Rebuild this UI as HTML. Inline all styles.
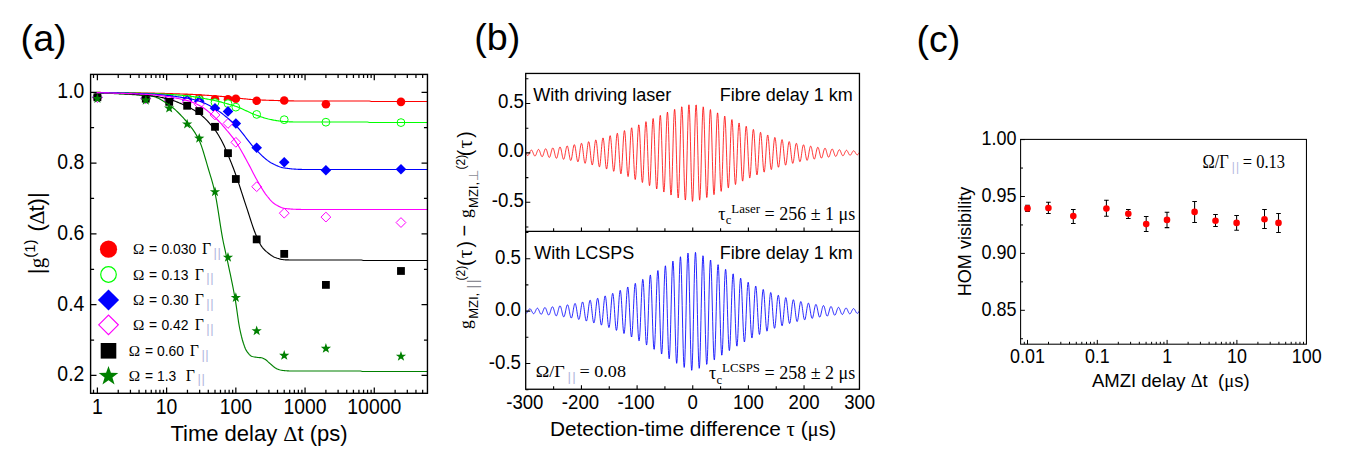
<!DOCTYPE html>
<html lang="en"><head><meta charset="utf-8"><title>Figure: first-order coherence, MZI correlations, HOM visibility</title>
<style>
html,body{margin:0;padding:0;background:#fff;}
body{width:1368px;height:465px;overflow:hidden;}
svg{display:block;}
text{fill:#000;}
.s{font-family:"Liberation Sans", Arial, Helvetica, sans-serif;}
.r{font-family:"Liberation Serif", "Times New Roman", Times, serif;}
.bar{fill:#b3b8de;font-family:"Liberation Sans", Arial, Helvetica, sans-serif;}
.bar2{fill:#8c8c94;font-family:"Liberation Sans", Arial, Helvetica, sans-serif;}
</style></head><body>
<svg width="1368" height="465" viewBox="0 0 1368 465">
<rect x="0" y="0" width="1368" height="465" fill="#fff"/>
<g id="panel-a">
<text class="s" transform="translate(20.6 50.9) scale(1.040 1)" font-size="36.2" text-anchor="start">(a)</text>
<g>
<circle cx="97.4" cy="97.25" r="4.3" fill="#ff0000"/>
<circle cx="145.78" cy="97.96" r="4.3" fill="#ff0000"/>
<circle cx="169.21" cy="97.96" r="4.3" fill="#ff0000"/>
<circle cx="187.16" cy="97.96" r="4.3" fill="#ff0000"/>
<circle cx="199.24" cy="98.32" r="4.3" fill="#ff0000"/>
<circle cx="215" cy="99.2" r="4.3" fill="#ff0000"/>
<circle cx="227.98" cy="99.2" r="4.3" fill="#ff0000"/>
<circle cx="235.84" cy="98.74" r="4.3" fill="#ff0000"/>
<circle cx="256.68" cy="100.79" r="4.3" fill="#ff0000"/>
<circle cx="284.22" cy="100.44" r="4.3" fill="#ff0000"/>
<circle cx="325.9" cy="104.19" r="4.3" fill="#ff0000"/>
<circle cx="400.97" cy="101.86" r="4.3" fill="#ff0000"/>
</g>
<g>
<circle cx="97.4" cy="97.25" r="3.9" fill="#fff" stroke="#00ff00" stroke-width="1"/>
<circle cx="145.78" cy="97.96" r="3.9" fill="#fff" stroke="#00ff00" stroke-width="1"/>
<circle cx="169.21" cy="97.96" r="3.9" fill="#fff" stroke="#00ff00" stroke-width="1"/>
<circle cx="187.16" cy="98.32" r="3.9" fill="#fff" stroke="#00ff00" stroke-width="1"/>
<circle cx="199.24" cy="99.38" r="3.9" fill="#fff" stroke="#00ff00" stroke-width="1"/>
<circle cx="215" cy="102.56" r="3.9" fill="#fff" stroke="#00ff00" stroke-width="1"/>
<circle cx="227.98" cy="103.62" r="3.9" fill="#fff" stroke="#00ff00" stroke-width="1"/>
<circle cx="235.84" cy="107.16" r="3.9" fill="#fff" stroke="#00ff00" stroke-width="1"/>
<circle cx="256.68" cy="114.42" r="3.9" fill="#fff" stroke="#00ff00" stroke-width="1"/>
<circle cx="284.22" cy="119.69" r="3.9" fill="#fff" stroke="#00ff00" stroke-width="1"/>
<circle cx="325.9" cy="122.2" r="3.9" fill="#fff" stroke="#00ff00" stroke-width="1"/>
<circle cx="400.97" cy="122.59" r="3.9" fill="#fff" stroke="#00ff00" stroke-width="1"/>
</g>
<g>
<polygon points="92.1,97.25 97.4,91.95 102.7,97.25 97.4,102.55" fill="#0000ff"/>
<polygon points="140.48,98.32 145.78,93.02 151.08,98.32 145.78,103.62" fill="#0000ff"/>
<polygon points="163.91,99.02 169.21,93.72 174.51,99.02 169.21,104.32" fill="#0000ff"/>
<polygon points="181.86,100.09 187.16,94.79 192.46,100.09 187.16,105.39" fill="#0000ff"/>
<polygon points="193.94,101.15 199.24,95.85 204.54,101.15 199.24,106.45" fill="#0000ff"/>
<polygon points="209.7,108.23 215,102.93 220.3,108.23 215,113.53" fill="#0000ff"/>
<polygon points="222.68,111.41 227.98,106.11 233.28,111.41 227.98,116.71" fill="#0000ff"/>
<polygon points="230.54,123.44 235.84,118.14 241.14,123.44 235.84,128.74" fill="#0000ff"/>
<polygon points="251.38,147.72 256.68,142.42 261.98,147.72 256.68,153.02" fill="#0000ff"/>
<polygon points="278.92,162.27 284.22,156.97 289.52,162.27 284.22,167.57" fill="#0000ff"/>
<polygon points="320.6,170.3 325.9,165 331.2,170.3 325.9,175.6" fill="#0000ff"/>
<polygon points="395.67,169.31 400.97,164.01 406.27,169.31 400.97,174.61" fill="#0000ff"/>
</g>
<g>
<polygon points="92.5,97.61 97.4,92.71 102.3,97.61 97.4,102.51" fill="#fff" stroke="#ff00ff" stroke-width="1"/>
<polygon points="140.88,98.67 145.78,93.77 150.68,98.67 145.78,103.57" fill="#fff" stroke="#ff00ff" stroke-width="1"/>
<polygon points="164.31,100.09 169.21,95.19 174.11,100.09 169.21,104.99" fill="#fff" stroke="#ff00ff" stroke-width="1"/>
<polygon points="182.26,102.21 187.16,97.31 192.06,102.21 187.16,107.11" fill="#fff" stroke="#ff00ff" stroke-width="1"/>
<polygon points="194.34,104.33 199.24,99.43 204.14,104.33 199.24,109.23" fill="#fff" stroke="#ff00ff" stroke-width="1"/>
<polygon points="210.1,114.95 215,110.05 219.9,114.95 215,119.85" fill="#fff" stroke="#ff00ff" stroke-width="1"/>
<polygon points="223.08,123.44 227.98,118.54 232.88,123.44 227.98,128.34" fill="#fff" stroke="#ff00ff" stroke-width="1"/>
<polygon points="230.94,142.31 235.84,137.41 240.74,142.31 235.84,147.21" fill="#fff" stroke="#ff00ff" stroke-width="1"/>
<polygon points="251.78,186.69 256.68,181.79 261.58,186.69 256.68,191.59" fill="#fff" stroke="#ff00ff" stroke-width="1"/>
<polygon points="279.32,213.19 284.22,208.29 289.12,213.19 284.22,218.09" fill="#fff" stroke="#ff00ff" stroke-width="1"/>
<polygon points="321,217.09 325.9,212.19 330.8,217.09 325.9,221.99" fill="#fff" stroke="#ff00ff" stroke-width="1"/>
<polygon points="396.07,222.54 400.97,217.64 405.87,222.54 400.97,227.44" fill="#fff" stroke="#ff00ff" stroke-width="1"/>
</g>
<g>
<rect x="93.5" y="93.35" width="7.8" height="7.8" fill="#000"/>
<rect x="141.88" y="94.77" width="7.8" height="7.8" fill="#000"/>
<rect x="165.31" y="97.96" width="7.8" height="7.8" fill="#000"/>
<rect x="183.26" y="101.85" width="7.8" height="7.8" fill="#000"/>
<rect x="195.34" y="107.16" width="7.8" height="7.8" fill="#000"/>
<rect x="211.1" y="122.91" width="7.8" height="7.8" fill="#000"/>
<rect x="224.08" y="149.27" width="7.8" height="7.8" fill="#000"/>
<rect x="231.94" y="175.11" width="7.8" height="7.8" fill="#000"/>
<rect x="252.78" y="235.48" width="7.8" height="7.8" fill="#000"/>
<rect x="280.32" y="249.99" width="7.8" height="7.8" fill="#000"/>
<rect x="322" y="280.99" width="7.8" height="7.8" fill="#000"/>
<rect x="397.07" y="267.08" width="7.8" height="7.8" fill="#000"/>
</g>
<g>
<polygon points="97.4,93.27 98.67,96.92 102.54,97 99.45,99.34 100.57,103.04 97.4,100.83 94.23,103.04 95.35,99.34 92.26,97 96.13,96.92" fill="#008000"/>
<polygon points="145.78,94.86 147.05,98.52 150.92,98.59 147.84,100.93 148.96,104.63 145.78,102.42 142.61,104.63 143.73,100.93 140.65,98.59 144.51,98.52" fill="#008000"/>
<polygon points="169.21,102.83 170.48,106.48 174.35,106.56 171.26,108.89 172.38,112.59 169.21,110.39 166.04,112.59 167.16,108.89 164.07,106.56 167.94,106.48" fill="#008000"/>
<polygon points="187.16,118.75 188.42,122.4 192.29,122.48 189.21,124.82 190.33,128.52 187.16,126.31 183.98,128.52 185.1,124.82 182.02,122.48 185.89,122.4" fill="#008000"/>
<polygon points="199.24,132.91 200.51,136.56 204.38,136.64 201.3,138.97 202.42,142.68 199.24,140.47 196.07,142.68 197.19,138.97 194.11,136.64 197.97,136.56" fill="#008000"/>
<polygon points="215,186.49 216.27,190.14 220.14,190.22 217.06,192.55 218.18,196.26 215,194.05 211.83,196.26 212.95,192.55 209.87,190.22 213.73,190.14" fill="#008000"/>
<polygon points="227.98,251.99 229.25,255.65 233.12,255.73 230.04,258.06 231.16,261.76 227.98,259.55 224.81,261.76 225.93,258.06 222.85,255.73 226.71,255.65" fill="#008000"/>
<polygon points="235.84,292.3 237.11,295.96 240.98,296.03 237.89,298.37 239.01,302.07 235.84,299.86 232.67,302.07 233.79,298.37 230.7,296.03 234.57,295.96" fill="#008000"/>
<polygon points="256.68,325.5 257.95,329.15 261.81,329.23 258.73,331.57 259.85,335.27 256.68,333.06 253.5,335.27 254.62,331.57 251.54,329.23 255.41,329.15" fill="#008000"/>
<polygon points="284.22,350.1 285.49,353.75 289.36,353.83 286.28,356.16 287.4,359.86 284.22,357.66 281.05,359.86 282.17,356.16 279.09,353.83 282.95,353.75" fill="#008000"/>
<polygon points="325.9,343.09 327.17,346.74 331.03,346.82 327.95,349.16 329.07,352.86 325.9,350.65 322.72,352.86 323.84,349.16 320.76,346.82 324.63,346.74" fill="#008000"/>
<polygon points="400.97,351.02 402.24,354.67 406.11,354.75 403.03,357.08 404.15,360.78 400.97,358.58 397.8,360.78 398.92,357.08 395.84,354.75 399.7,354.67" fill="#008000"/>
</g>
<g>
<path d="M96.4 92.86 L97.4 92.9 L98.4 92.94 L99.4 92.99 L100.4 93.03 L101.4 93.07 L102.4 93.11 L103.4 93.15 L104.4 93.19 L105.4 93.23 L106.4 93.27 L107.4 93.31 L108.4 93.35 L109.4 93.39 L110.4 93.43 L111.4 93.47 L112.4 93.51 L113.4 93.55 L114.4 93.59 L115.4 93.64 L116.4 93.68 L117.4 93.72 L118.4 93.77 L119.4 93.82 L120.4 93.86 L121.4 93.91 L122.4 93.96 L123.4 94.01 L124.4 94.07 L125.4 94.12 L126.4 94.18 L127.4 94.24 L128.4 94.3 L129.4 94.37 L130.4 94.43 L131.4 94.5 L132.4 94.57 L133.4 94.64 L134.4 94.71 L135.4 94.79 L136.4 94.87 L137.4 94.94 L138.4 95.02 L139.4 95.1 L140.4 95.18 L141.4 95.26 L142.4 95.34 L143.4 95.43 L144.4 95.51 L145.4 95.59 L146.4 95.67 L147.4 95.75 L148.4 95.82 L149.4 95.91 L150.4 96 L151.4 96.12 L152.4 96.26 L153.4 96.46 L154.4 96.73 L155.4 97.05 L156.4 97.42 L157.4 97.85 L158.4 98.32 L159.4 98.83 L160.4 99.37 L161.4 99.95 L162.4 100.56 L163.4 101.19 L164.4 101.83 L165.4 102.5 L166.4 103.17 L167.4 103.85 L168.4 104.52 L169.4 105.2 L170.4 105.89 L171.4 106.62 L172.4 107.39 L173.4 108.2 L174.4 109.04 L175.4 109.91 L176.4 110.82 L177.4 111.76 L178.4 112.73 L179.4 113.72 L180.4 114.75 L181.4 115.8 L182.4 116.88 L183.4 117.98 L184.4 119.1 L185.4 120.25 L186.4 121.41 L187.4 122.6 L188.4 123.8 L189.4 125.03 L190.4 126.28 L191.4 127.58 L192.4 128.94 L193.4 130.36 L194.4 131.85 L195.4 133.43 L196.4 135.11 L197.4 136.9 L198.4 138.8 L199.4 140.85 L200.4 143.22 L201.4 145.9 L202.4 148.85 L203.4 152 L204.4 155.31 L205.4 158.72 L206.4 162.17 L207.4 165.62 L208.4 169 L209.4 172.3 L210.4 175.58 L211.4 178.94 L212.4 182.44 L213.4 186.19 L214.4 190.26 L215.4 194.82 L216.4 200.15 L217.4 206.08 L218.4 212.4 L219.4 218.89 L220.4 225.36 L221.4 231.58 L222.4 237.35 L223.4 242.5 L224.4 247.19 L225.4 251.65 L226.4 256.05 L227.4 260.59 L228.4 265.32 L229.4 270.02 L230.4 274.74 L231.4 279.52 L232.4 284.42 L233.4 289.5 L234.4 294.81 L235.4 300.42 L236.4 306.79 L237.4 313.97 L238.4 321.03 L239.4 327 L240.4 331.87 L241.4 336.22 L242.4 340.01 L243.4 343.24 L244.4 346.17 L245.4 348.7 L246.4 350.64 L247.4 352.12 L248.4 353.46 L249.4 354.61 L250.4 355.54 L251.4 356.19 L252.4 356.55 L253.4 356.81 L254.4 357.01 L255.4 357.16 L256.4 357.3 L257.4 357.41 L258.4 357.49 L259.4 357.56 L260.4 357.64 L261.4 357.77 L262.4 358 L263.4 358.41 L264.4 358.95 L265.4 359.54 L266.4 360.25 L267.4 361.15 L268.4 362.1 L269.4 363 L270.4 363.85 L271.4 364.75 L272.4 365.64 L273.4 366.51 L274.4 367.32 L275.4 368.02 L276.4 368.6 L277.4 369.01 L278.4 369.36 L279.4 369.68 L280.4 369.96 L281.4 370.2 L282.4 370.39 L283.4 370.54 L284.4 370.63 L285.4 370.71 L286.4 370.79 L287.4 370.85 L288.4 370.91 L289.4 370.95 L290.4 370.98 L291.4 371 L292.4 371 L293.4 371 L294.4 371 L295.4 371 L296.4 371 L297.4 371 L298.4 371 L299.4 371 L300.4 371 L301.4 371 L302.4 371 L303.4 371 L304.4 371 L305.4 371 L306.4 371 L307.4 371 L308.4 371 L309.4 371 L310.4 371 L311.4 371 L312.4 371 L313.4 371 L314.4 371 L315.4 371 L316.4 371 L317.4 371 L318.4 371 L319.4 371 L320.4 371 L321.4 371 L322.4 371 L323.4 371 L324.4 371 L325.4 371 L326.4 371 L327.4 371 L328.4 371 L329.4 371 L330.4 371 L331.4 371 L332.4 371 L333.4 371 L334.4 371 L335.4 371 L336.4 371 L337.4 371 L338.4 371 L339.4 371 L340.4 371 L341.4 371 L342.4 371 L343.4 371 L344.4 371 L345.4 371 L346.4 371 L347.4 371 L348.4 371 L349.4 371 L350.4 371 L351.4 371 L352.4 371 L353.4 371 L354.4 371 L355.4 371 L356.4 371 L357.4 371 L358.4 371 L359.4 371 L360.4 371.02 L361.4 371.23 L362.4 371.45 L363.4 371.5 L364.4 371.5 L365.4 371.5 L366.4 371.5 L367.4 371.5 L368.4 371.5 L369.4 371.5 L370.4 371.5 L371.4 371.5 L372.4 371.5 L373.4 371.5 L374.4 371.5 L375.4 371.5 L376.4 371.5 L377.4 371.5 L378.4 371.5 L379.4 371.5 L380.4 371.5 L381.4 371.5 L382.4 371.5 L383.4 371.5 L384.4 371.5 L385.4 371.5 L386.4 371.5 L387.4 371.5 L388.4 371.5 L389.4 371.5 L390.4 371.5 L391.4 371.5 L392.4 371.5 L393.4 371.5 L394.4 371.5 L395.4 371.5 L396.4 371.5 L397.4 371.5 L398.4 371.5 L399.4 371.5 L400.4 371.5 L401.4 371.5 L402.4 371.5 L403.4 371.5 L404.4 371.5 L405.4 371.5 L406.4 371.5 L407.4 371.5 L408.4 371.5 L409.4 371.5 L410.4 371.5 L411.4 371.5 L412.4 371.5 L413.4 371.5 L414.4 371.5 L415.4 371.5 L416.4 371.5 L417.4 371.5 L418.4 371.5 L419.4 371.5 L420.4 371.5 L421.4 371.5 L422.4 371.5 L423.4 371.5 L424.4 371.5 L425.4 371.5 L426.4 371.5 L427.4 371.5" fill="none" stroke="#008000" stroke-width="1.15" stroke-linejoin="round"/>
<path d="M96.4 92.67 L97.4 92.7 L98.4 92.74 L99.4 92.77 L100.4 92.81 L101.4 92.84 L102.4 92.88 L103.4 92.92 L104.4 92.95 L105.4 92.99 L106.4 93.03 L107.4 93.07 L108.4 93.1 L109.4 93.14 L110.4 93.18 L111.4 93.22 L112.4 93.26 L113.4 93.3 L114.4 93.34 L115.4 93.39 L116.4 93.43 L117.4 93.47 L118.4 93.52 L119.4 93.56 L120.4 93.61 L121.4 93.65 L122.4 93.7 L123.4 93.75 L124.4 93.8 L125.4 93.85 L126.4 93.91 L127.4 93.96 L128.4 94.02 L129.4 94.07 L130.4 94.13 L131.4 94.19 L132.4 94.25 L133.4 94.31 L134.4 94.38 L135.4 94.44 L136.4 94.51 L137.4 94.58 L138.4 94.65 L139.4 94.72 L140.4 94.79 L141.4 94.87 L142.4 94.95 L143.4 95.03 L144.4 95.11 L145.4 95.19 L146.4 95.28 L147.4 95.36 L148.4 95.45 L149.4 95.54 L150.4 95.64 L151.4 95.75 L152.4 95.86 L153.4 96 L154.4 96.14 L155.4 96.3 L156.4 96.46 L157.4 96.64 L158.4 96.83 L159.4 97.03 L160.4 97.23 L161.4 97.45 L162.4 97.67 L163.4 97.9 L164.4 98.14 L165.4 98.38 L166.4 98.63 L167.4 98.88 L168.4 99.14 L169.4 99.4 L170.4 99.67 L171.4 99.97 L172.4 100.28 L173.4 100.62 L174.4 100.97 L175.4 101.33 L176.4 101.71 L177.4 102.11 L178.4 102.51 L179.4 102.93 L180.4 103.37 L181.4 103.81 L182.4 104.26 L183.4 104.71 L184.4 105.18 L185.4 105.65 L186.4 106.12 L187.4 106.6 L188.4 107.08 L189.4 107.58 L190.4 108.09 L191.4 108.61 L192.4 109.15 L193.4 109.71 L194.4 110.3 L195.4 110.91 L196.4 111.54 L197.4 112.21 L198.4 112.91 L199.4 113.65 L200.4 114.42 L201.4 115.24 L202.4 116.09 L203.4 116.99 L204.4 117.92 L205.4 118.89 L206.4 119.89 L207.4 120.94 L208.4 122.01 L209.4 123.13 L210.4 124.27 L211.4 125.45 L212.4 126.66 L213.4 127.91 L214.4 129.18 L215.4 130.5 L216.4 131.92 L217.4 133.43 L218.4 135.03 L219.4 136.72 L220.4 138.48 L221.4 140.3 L222.4 142.19 L223.4 144.2 L224.4 146.36 L225.4 148.62 L226.4 150.97 L227.4 153.36 L228.4 155.78 L229.4 158.2 L230.4 160.66 L231.4 163.16 L232.4 165.72 L233.4 168.33 L234.4 171 L235.4 173.72 L236.4 176.53 L237.4 179.42 L238.4 182.39 L239.4 185.42 L240.4 188.49 L241.4 191.59 L242.4 194.69 L243.4 197.79 L244.4 200.87 L245.4 203.91 L246.4 206.89 L247.4 209.93 L248.4 213.03 L249.4 216.14 L250.4 219.26 L251.4 222.33 L252.4 225.33 L253.4 228.22 L254.4 230.98 L255.4 233.57 L256.4 235.96 L257.4 238.27 L258.4 240.49 L259.4 242.58 L260.4 244.49 L261.4 246.15 L262.4 247.52 L263.4 248.7 L264.4 249.76 L265.4 250.71 L266.4 251.58 L267.4 252.4 L268.4 253.2 L269.4 253.98 L270.4 254.74 L271.4 255.45 L272.4 256.11 L273.4 256.69 L274.4 257.18 L275.4 257.57 L276.4 257.92 L277.4 258.26 L278.4 258.57 L279.4 258.87 L280.4 259.13 L281.4 259.36 L282.4 259.55 L283.4 259.69 L284.4 259.78 L285.4 259.82 L286.4 259.86 L287.4 259.89 L288.4 259.92 L289.4 259.95 L290.4 259.97 L291.4 259.98 L292.4 259.99 L293.4 260 L294.4 260 L295.4 260 L296.4 260 L297.4 260 L298.4 260 L299.4 260 L300.4 260 L301.4 260 L302.4 260 L303.4 260 L304.4 260 L305.4 260 L306.4 260 L307.4 260 L308.4 260 L309.4 260 L310.4 260 L311.4 260 L312.4 260 L313.4 260 L314.4 260 L315.4 260 L316.4 260 L317.4 260 L318.4 260 L319.4 260 L320.4 260 L321.4 260 L322.4 260 L323.4 260 L324.4 260 L325.4 260 L326.4 260 L327.4 260 L328.4 260 L329.4 260 L330.4 260 L331.4 260 L332.4 260 L333.4 260 L334.4 260 L335.4 260 L336.4 260 L337.4 260 L338.4 260 L339.4 260 L340.4 260 L341.4 260 L342.4 260 L343.4 260 L344.4 260 L345.4 260 L346.4 260 L347.4 260 L348.4 260 L349.4 260 L350.4 260 L351.4 260 L352.4 260 L353.4 260 L354.4 260 L355.4 260 L356.4 260 L357.4 260 L358.4 260 L359.4 260 L360.4 260 L361.4 260.02 L362.4 260.23 L363.4 260.45 L364.4 260.5 L365.4 260.5 L366.4 260.5 L367.4 260.5 L368.4 260.5 L369.4 260.5 L370.4 260.5 L371.4 260.5 L372.4 260.5 L373.4 260.5 L374.4 260.5 L375.4 260.5 L376.4 260.5 L377.4 260.5 L378.4 260.5 L379.4 260.5 L380.4 260.5 L381.4 260.5 L382.4 260.5 L383.4 260.5 L384.4 260.5 L385.4 260.5 L386.4 260.5 L387.4 260.5 L388.4 260.5 L389.4 260.5 L390.4 260.5 L391.4 260.5 L392.4 260.5 L393.4 260.5 L394.4 260.5 L395.4 260.5 L396.4 260.5 L397.4 260.5 L398.4 260.5 L399.4 260.5 L400.4 260.5 L401.4 260.5 L402.4 260.5 L403.4 260.5 L404.4 260.5 L405.4 260.5 L406.4 260.5 L407.4 260.5 L408.4 260.5 L409.4 260.5 L410.4 260.5 L411.4 260.5 L412.4 260.5 L413.4 260.5 L414.4 260.5 L415.4 260.5 L416.4 260.5 L417.4 260.5 L418.4 260.5 L419.4 260.5 L420.4 260.5 L421.4 260.5 L422.4 260.5 L423.4 260.5 L424.4 260.5 L425.4 260.5 L426.4 260.5 L427.4 260.5" fill="none" stroke="#000000" stroke-width="1.15" stroke-linejoin="round"/>
<path d="M96.4 92.39 L97.4 92.4 L98.4 92.41 L99.4 92.43 L100.4 92.44 L101.4 92.46 L102.4 92.47 L103.4 92.48 L104.4 92.49 L105.4 92.51 L106.4 92.52 L107.4 92.53 L108.4 92.54 L109.4 92.56 L110.4 92.57 L111.4 92.58 L112.4 92.59 L113.4 92.6 L114.4 92.61 L115.4 92.62 L116.4 92.64 L117.4 92.65 L118.4 92.66 L119.4 92.67 L120.4 92.68 L121.4 92.69 L122.4 92.71 L123.4 92.72 L124.4 92.73 L125.4 92.74 L126.4 92.75 L127.4 92.76 L128.4 92.78 L129.4 92.79 L130.4 92.8 L131.4 92.81 L132.4 92.83 L133.4 92.84 L134.4 92.85 L135.4 92.87 L136.4 92.88 L137.4 92.89 L138.4 92.91 L139.4 92.92 L140.4 92.94 L141.4 92.95 L142.4 92.97 L143.4 92.99 L144.4 93 L145.4 93.02 L146.4 93.04 L147.4 93.05 L148.4 93.07 L149.4 93.09 L150.4 93.11 L151.4 93.13 L152.4 93.15 L153.4 93.17 L154.4 93.19 L155.4 93.21 L156.4 93.23 L157.4 93.26 L158.4 93.28 L159.4 93.31 L160.4 93.33 L161.4 93.36 L162.4 93.38 L163.4 93.41 L164.4 93.44 L165.4 93.47 L166.4 93.49 L167.4 93.52 L168.4 93.55 L169.4 93.58 L170.4 93.61 L171.4 93.65 L172.4 93.68 L173.4 93.71 L174.4 93.74 L175.4 93.78 L176.4 93.81 L177.4 93.85 L178.4 93.88 L179.4 93.92 L180.4 93.95 L181.4 93.99 L182.4 94.03 L183.4 94.06 L184.4 94.1 L185.4 94.14 L186.4 94.18 L187.4 94.22 L188.4 94.26 L189.4 94.3 L190.4 94.35 L191.4 94.39 L192.4 94.44 L193.4 94.49 L194.4 94.54 L195.4 94.6 L196.4 94.65 L197.4 94.71 L198.4 94.77 L199.4 94.82 L200.4 94.88 L201.4 94.94 L202.4 95.01 L203.4 95.07 L204.4 95.13 L205.4 95.2 L206.4 95.27 L207.4 95.34 L208.4 95.41 L209.4 95.48 L210.4 95.55 L211.4 95.63 L212.4 95.7 L213.4 95.78 L214.4 95.85 L215.4 95.93 L216.4 96.01 L217.4 96.09 L218.4 96.17 L219.4 96.25 L220.4 96.33 L221.4 96.41 L222.4 96.49 L223.4 96.58 L224.4 96.67 L225.4 96.76 L226.4 96.85 L227.4 96.94 L228.4 97.04 L229.4 97.14 L230.4 97.24 L231.4 97.35 L232.4 97.47 L233.4 97.6 L234.4 97.72 L235.4 97.85 L236.4 97.98 L237.4 98.11 L238.4 98.23 L239.4 98.34 L240.4 98.44 L241.4 98.54 L242.4 98.64 L243.4 98.74 L244.4 98.84 L245.4 98.94 L246.4 99.04 L247.4 99.13 L248.4 99.22 L249.4 99.31 L250.4 99.4 L251.4 99.48 L252.4 99.55 L253.4 99.62 L254.4 99.69 L255.4 99.75 L256.4 99.8 L257.4 99.85 L258.4 99.9 L259.4 99.94 L260.4 99.98 L261.4 100.03 L262.4 100.07 L263.4 100.11 L264.4 100.14 L265.4 100.18 L266.4 100.22 L267.4 100.25 L268.4 100.28 L269.4 100.32 L270.4 100.35 L271.4 100.38 L272.4 100.41 L273.4 100.44 L274.4 100.46 L275.4 100.49 L276.4 100.52 L277.4 100.54 L278.4 100.57 L279.4 100.59 L280.4 100.62 L281.4 100.64 L282.4 100.66 L283.4 100.69 L284.4 100.71 L285.4 100.74 L286.4 100.76 L287.4 100.79 L288.4 100.81 L289.4 100.84 L290.4 100.86 L291.4 100.88 L292.4 100.91 L293.4 100.93 L294.4 100.95 L295.4 100.96 L296.4 100.98 L297.4 100.99 L298.4 101 L299.4 101 L300.4 101 L301.4 101 L302.4 101 L303.4 101 L304.4 101 L305.4 101 L306.4 101 L307.4 101 L308.4 101 L309.4 101 L310.4 101 L311.4 101 L312.4 101 L313.4 101 L314.4 101 L315.4 101 L316.4 101 L317.4 101 L318.4 101 L319.4 101 L320.4 101 L321.4 101 L322.4 101 L323.4 101 L324.4 101 L325.4 101 L326.4 101 L327.4 101 L328.4 101 L329.4 101 L330.4 101 L331.4 101 L332.4 101 L333.4 101 L334.4 101 L335.4 101 L336.4 101 L337.4 101 L338.4 101 L339.4 101 L340.4 101 L341.4 101 L342.4 101 L343.4 101 L344.4 101 L345.4 101 L346.4 101 L347.4 101 L348.4 101 L349.4 101 L350.4 101 L351.4 101 L352.4 101 L353.4 101 L354.4 101 L355.4 101 L356.4 101 L357.4 101 L358.4 101 L359.4 101 L360.4 101 L361.4 101 L362.4 101 L363.4 101 L364.4 101 L365.4 101 L366.4 101 L367.4 101 L368.4 101 L369.4 101.02 L370.4 101.23 L371.4 101.45 L372.4 101.5 L373.4 101.5 L374.4 101.5 L375.4 101.5 L376.4 101.5 L377.4 101.5 L378.4 101.5 L379.4 101.5 L380.4 101.5 L381.4 101.5 L382.4 101.5 L383.4 101.5 L384.4 101.5 L385.4 101.5 L386.4 101.5 L387.4 101.5 L388.4 101.5 L389.4 101.5 L390.4 101.5 L391.4 101.5 L392.4 101.5 L393.4 101.5 L394.4 101.5 L395.4 101.5 L396.4 101.5 L397.4 101.5 L398.4 101.5 L399.4 101.5 L400.4 101.5 L401.4 101.5 L402.4 101.5 L403.4 101.5 L404.4 101.5 L405.4 101.5 L406.4 101.5 L407.4 101.5 L408.4 101.5 L409.4 101.5 L410.4 101.5 L411.4 101.5 L412.4 101.5 L413.4 101.5 L414.4 101.5 L415.4 101.5 L416.4 101.5 L417.4 101.5 L418.4 101.5 L419.4 101.5 L420.4 101.5 L421.4 101.5 L422.4 101.5 L423.4 101.5 L424.4 101.5 L425.4 101.5 L426.4 101.5 L427.4 101.5" fill="none" stroke="#ff0000" stroke-width="1.15" stroke-linejoin="round"/>
<path d="M96.4 92.38 L97.4 92.4 L98.4 92.42 L99.4 92.43 L100.4 92.45 L101.4 92.47 L102.4 92.48 L103.4 92.5 L104.4 92.52 L105.4 92.53 L106.4 92.55 L107.4 92.56 L108.4 92.58 L109.4 92.6 L110.4 92.61 L111.4 92.63 L112.4 92.65 L113.4 92.66 L114.4 92.68 L115.4 92.7 L116.4 92.72 L117.4 92.73 L118.4 92.75 L119.4 92.77 L120.4 92.79 L121.4 92.8 L122.4 92.82 L123.4 92.84 L124.4 92.86 L125.4 92.88 L126.4 92.9 L127.4 92.92 L128.4 92.94 L129.4 92.96 L130.4 92.98 L131.4 93.01 L132.4 93.03 L133.4 93.05 L134.4 93.07 L135.4 93.1 L136.4 93.12 L137.4 93.14 L138.4 93.17 L139.4 93.19 L140.4 93.22 L141.4 93.25 L142.4 93.27 L143.4 93.3 L144.4 93.33 L145.4 93.36 L146.4 93.39 L147.4 93.42 L148.4 93.45 L149.4 93.48 L150.4 93.51 L151.4 93.55 L152.4 93.58 L153.4 93.62 L154.4 93.66 L155.4 93.7 L156.4 93.74 L157.4 93.78 L158.4 93.82 L159.4 93.87 L160.4 93.92 L161.4 93.97 L162.4 94.02 L163.4 94.07 L164.4 94.12 L165.4 94.18 L166.4 94.24 L167.4 94.3 L168.4 94.36 L169.4 94.42 L170.4 94.48 L171.4 94.55 L172.4 94.61 L173.4 94.68 L174.4 94.75 L175.4 94.83 L176.4 94.9 L177.4 94.98 L178.4 95.06 L179.4 95.13 L180.4 95.22 L181.4 95.3 L182.4 95.38 L183.4 95.47 L184.4 95.56 L185.4 95.65 L186.4 95.74 L187.4 95.84 L188.4 95.95 L189.4 96.07 L190.4 96.2 L191.4 96.35 L192.4 96.5 L193.4 96.66 L194.4 96.82 L195.4 96.99 L196.4 97.16 L197.4 97.33 L198.4 97.5 L199.4 97.67 L200.4 97.83 L201.4 98 L202.4 98.17 L203.4 98.35 L204.4 98.52 L205.4 98.7 L206.4 98.88 L207.4 99.06 L208.4 99.25 L209.4 99.44 L210.4 99.64 L211.4 99.84 L212.4 100.04 L213.4 100.25 L214.4 100.47 L215.4 100.69 L216.4 100.92 L217.4 101.16 L218.4 101.4 L219.4 101.66 L220.4 101.92 L221.4 102.18 L222.4 102.45 L223.4 102.73 L224.4 103.01 L225.4 103.29 L226.4 103.57 L227.4 103.86 L228.4 104.14 L229.4 104.43 L230.4 104.71 L231.4 105 L232.4 105.28 L233.4 105.57 L234.4 105.88 L235.4 106.2 L236.4 106.54 L237.4 106.91 L238.4 107.3 L239.4 107.71 L240.4 108.13 L241.4 108.57 L242.4 109.02 L243.4 109.47 L244.4 109.94 L245.4 110.41 L246.4 110.88 L247.4 111.35 L248.4 111.82 L249.4 112.28 L250.4 112.74 L251.4 113.18 L252.4 113.62 L253.4 114.04 L254.4 114.45 L255.4 114.83 L256.4 115.2 L257.4 115.56 L258.4 115.91 L259.4 116.27 L260.4 116.62 L261.4 116.96 L262.4 117.3 L263.4 117.62 L264.4 117.94 L265.4 118.24 L266.4 118.53 L267.4 118.8 L268.4 119.05 L269.4 119.27 L270.4 119.48 L271.4 119.68 L272.4 119.88 L273.4 120.07 L274.4 120.25 L275.4 120.43 L276.4 120.6 L277.4 120.76 L278.4 120.91 L279.4 121.05 L280.4 121.18 L281.4 121.29 L282.4 121.38 L283.4 121.47 L284.4 121.53 L285.4 121.59 L286.4 121.66 L287.4 121.71 L288.4 121.77 L289.4 121.82 L290.4 121.87 L291.4 121.91 L292.4 121.94 L293.4 121.97 L294.4 121.99 L295.4 122 L296.4 122 L297.4 122 L298.4 122 L299.4 122 L300.4 122 L301.4 122 L302.4 122 L303.4 122 L304.4 122 L305.4 122 L306.4 122 L307.4 122 L308.4 122 L309.4 122 L310.4 122 L311.4 122 L312.4 122 L313.4 122 L314.4 122 L315.4 122 L316.4 122 L317.4 122 L318.4 122 L319.4 122 L320.4 122 L321.4 122 L322.4 122 L323.4 122 L324.4 122 L325.4 122 L326.4 122 L327.4 122 L328.4 122 L329.4 122 L330.4 122 L331.4 122 L332.4 122 L333.4 122 L334.4 122 L335.4 122 L336.4 122 L337.4 122 L338.4 122 L339.4 122 L340.4 122 L341.4 122 L342.4 122 L343.4 122 L344.4 122 L345.4 122 L346.4 122 L347.4 122 L348.4 122 L349.4 122 L350.4 122 L351.4 122 L352.4 122 L353.4 122 L354.4 122 L355.4 122 L356.4 122 L357.4 122 L358.4 122 L359.4 122 L360.4 122 L361.4 122 L362.4 122 L363.4 122 L364.4 122 L365.4 122 L366.4 122 L367.4 122.02 L368.4 122.23 L369.4 122.45 L370.4 122.5 L371.4 122.5 L372.4 122.5 L373.4 122.5 L374.4 122.5 L375.4 122.5 L376.4 122.5 L377.4 122.5 L378.4 122.5 L379.4 122.5 L380.4 122.5 L381.4 122.5 L382.4 122.5 L383.4 122.5 L384.4 122.5 L385.4 122.5 L386.4 122.5 L387.4 122.5 L388.4 122.5 L389.4 122.5 L390.4 122.5 L391.4 122.5 L392.4 122.5 L393.4 122.5 L394.4 122.5 L395.4 122.5 L396.4 122.5 L397.4 122.5 L398.4 122.5 L399.4 122.5 L400.4 122.5 L401.4 122.5 L402.4 122.5 L403.4 122.5 L404.4 122.5 L405.4 122.5 L406.4 122.5 L407.4 122.5 L408.4 122.5 L409.4 122.5 L410.4 122.5 L411.4 122.5 L412.4 122.5 L413.4 122.5 L414.4 122.5 L415.4 122.5 L416.4 122.5 L417.4 122.5 L418.4 122.5 L419.4 122.5 L420.4 122.5 L421.4 122.5 L422.4 122.5 L423.4 122.5 L424.4 122.5 L425.4 122.5 L426.4 122.5 L427.4 122.5" fill="none" stroke="#00ff00" stroke-width="1.15" stroke-linejoin="round"/>
<path d="M96.4 92.48 L97.4 92.5 L98.4 92.52 L99.4 92.54 L100.4 92.55 L101.4 92.57 L102.4 92.59 L103.4 92.61 L104.4 92.63 L105.4 92.65 L106.4 92.67 L107.4 92.69 L108.4 92.71 L109.4 92.73 L110.4 92.75 L111.4 92.77 L112.4 92.79 L113.4 92.81 L114.4 92.83 L115.4 92.86 L116.4 92.88 L117.4 92.9 L118.4 92.93 L119.4 92.95 L120.4 92.97 L121.4 93 L122.4 93.02 L123.4 93.05 L124.4 93.08 L125.4 93.1 L126.4 93.13 L127.4 93.16 L128.4 93.19 L129.4 93.22 L130.4 93.25 L131.4 93.28 L132.4 93.31 L133.4 93.34 L134.4 93.38 L135.4 93.41 L136.4 93.45 L137.4 93.48 L138.4 93.52 L139.4 93.55 L140.4 93.59 L141.4 93.63 L142.4 93.67 L143.4 93.71 L144.4 93.75 L145.4 93.79 L146.4 93.84 L147.4 93.88 L148.4 93.93 L149.4 93.97 L150.4 94.02 L151.4 94.07 L152.4 94.13 L153.4 94.19 L154.4 94.25 L155.4 94.32 L156.4 94.39 L157.4 94.47 L158.4 94.55 L159.4 94.63 L160.4 94.72 L161.4 94.81 L162.4 94.9 L163.4 95 L164.4 95.1 L165.4 95.21 L166.4 95.32 L167.4 95.43 L168.4 95.54 L169.4 95.66 L170.4 95.78 L171.4 95.91 L172.4 96.04 L173.4 96.17 L174.4 96.3 L175.4 96.44 L176.4 96.58 L177.4 96.72 L178.4 96.86 L179.4 97.01 L180.4 97.16 L181.4 97.31 L182.4 97.46 L183.4 97.62 L184.4 97.78 L185.4 97.94 L186.4 98.1 L187.4 98.27 L188.4 98.44 L189.4 98.63 L190.4 98.83 L191.4 99.05 L192.4 99.27 L193.4 99.51 L194.4 99.77 L195.4 100.03 L196.4 100.3 L197.4 100.59 L198.4 100.89 L199.4 101.2 L200.4 101.53 L201.4 101.89 L202.4 102.27 L203.4 102.68 L204.4 103.11 L205.4 103.56 L206.4 104.03 L207.4 104.52 L208.4 105.03 L209.4 105.56 L210.4 106.1 L211.4 106.65 L212.4 107.21 L213.4 107.78 L214.4 108.37 L215.4 108.96 L216.4 109.58 L217.4 110.23 L218.4 110.9 L219.4 111.6 L220.4 112.32 L221.4 113.05 L222.4 113.81 L223.4 114.59 L224.4 115.38 L225.4 116.18 L226.4 117 L227.4 117.82 L228.4 118.66 L229.4 119.49 L230.4 120.34 L231.4 121.21 L232.4 122.11 L233.4 123.04 L234.4 124 L235.4 124.99 L236.4 126.03 L237.4 127.12 L238.4 128.25 L239.4 129.42 L240.4 130.63 L241.4 131.86 L242.4 133.13 L243.4 134.4 L244.4 135.7 L245.4 137 L246.4 138.3 L247.4 139.59 L248.4 140.88 L249.4 142.16 L250.4 143.41 L251.4 144.64 L252.4 145.83 L253.4 146.99 L254.4 148.11 L255.4 149.18 L256.4 150.2 L257.4 151.19 L258.4 152.18 L259.4 153.17 L260.4 154.15 L261.4 155.12 L262.4 156.06 L263.4 156.99 L264.4 157.88 L265.4 158.74 L266.4 159.57 L267.4 160.35 L268.4 161.09 L269.4 161.77 L270.4 162.39 L271.4 162.95 L272.4 163.48 L273.4 164 L274.4 164.51 L275.4 164.99 L276.4 165.46 L277.4 165.89 L278.4 166.3 L279.4 166.68 L280.4 167.03 L281.4 167.33 L282.4 167.59 L283.4 167.81 L284.4 167.98 L285.4 168.14 L286.4 168.29 L287.4 168.43 L288.4 168.55 L289.4 168.67 L290.4 168.78 L291.4 168.87 L292.4 168.96 L293.4 169.04 L294.4 169.11 L295.4 169.17 L296.4 169.22 L297.4 169.27 L298.4 169.32 L299.4 169.36 L300.4 169.4 L301.4 169.44 L302.4 169.47 L303.4 169.49 L304.4 169.5 L305.4 169.5 L306.4 169.5 L307.4 169.5 L308.4 169.5 L309.4 169.5 L310.4 169.5 L311.4 169.5 L312.4 169.5 L313.4 169.5 L314.4 169.5 L315.4 169.5 L316.4 169.5 L317.4 169.5 L318.4 169.5 L319.4 169.5 L320.4 169.5 L321.4 169.5 L322.4 169.5 L323.4 169.5 L324.4 169.5 L325.4 169.5 L326.4 169.5 L327.4 169.5 L328.4 169.5 L329.4 169.5 L330.4 169.5 L331.4 169.5 L332.4 169.5 L333.4 169.5 L334.4 169.5 L335.4 169.5 L336.4 169.5 L337.4 169.5 L338.4 169.5 L339.4 169.5 L340.4 169.5 L341.4 169.5 L342.4 169.5 L343.4 169.5 L344.4 169.5 L345.4 169.5 L346.4 169.5 L347.4 169.5 L348.4 169.5 L349.4 169.5 L350.4 169.5 L351.4 169.5 L352.4 169.5 L353.4 169.5 L354.4 169.5 L355.4 169.5 L356.4 169.5 L357.4 169.5 L358.4 169.5 L359.4 169.5 L360.4 169.5 L361.4 169.5 L362.4 169.5 L363.4 169.5 L364.4 169.5 L365.4 169.5 L366.4 169.5 L367.4 169.5 L368.4 169.5 L369.4 169.5 L370.4 169.5 L371.4 169.5 L372.4 169.5 L373.4 169.5 L374.4 169.5 L375.4 169.5 L376.4 169.5 L377.4 169.5 L378.4 169.5 L379.4 169.5 L380.4 169.5 L381.4 169.5 L382.4 169.5 L383.4 169.5 L384.4 169.5 L385.4 169.5 L386.4 169.5 L387.4 169.5 L388.4 169.5 L389.4 169.5 L390.4 169.5 L391.4 169.5 L392.4 169.5 L393.4 169.5 L394.4 169.5 L395.4 169.5 L396.4 169.5 L397.4 169.5 L398.4 169.5 L399.4 169.5 L400.4 169.5 L401.4 169.5 L402.4 169.5 L403.4 169.5 L404.4 169.5 L405.4 169.5 L406.4 169.5 L407.4 169.5 L408.4 169.5 L409.4 169.5 L410.4 169.5 L411.4 169.5 L412.4 169.5 L413.4 169.5 L414.4 169.5 L415.4 169.5 L416.4 169.5 L417.4 169.5 L418.4 169.5 L419.4 169.5 L420.4 169.5 L421.4 169.5 L422.4 169.5 L423.4 169.5 L424.4 169.5 L425.4 169.5 L426.4 169.5 L427.4 169.5" fill="none" stroke="#0000ff" stroke-width="1.15" stroke-linejoin="round"/>
<path d="M96.4 92.57 L97.4 92.6 L98.4 92.63 L99.4 92.66 L100.4 92.7 L101.4 92.73 L102.4 92.76 L103.4 92.79 L104.4 92.82 L105.4 92.85 L106.4 92.87 L107.4 92.9 L108.4 92.93 L109.4 92.96 L110.4 92.99 L111.4 93.02 L112.4 93.05 L113.4 93.08 L114.4 93.11 L115.4 93.14 L116.4 93.17 L117.4 93.2 L118.4 93.23 L119.4 93.26 L120.4 93.29 L121.4 93.32 L122.4 93.35 L123.4 93.38 L124.4 93.42 L125.4 93.45 L126.4 93.49 L127.4 93.52 L128.4 93.56 L129.4 93.59 L130.4 93.63 L131.4 93.67 L132.4 93.71 L133.4 93.75 L134.4 93.79 L135.4 93.83 L136.4 93.88 L137.4 93.92 L138.4 93.97 L139.4 94.01 L140.4 94.06 L141.4 94.11 L142.4 94.16 L143.4 94.22 L144.4 94.27 L145.4 94.32 L146.4 94.38 L147.4 94.44 L148.4 94.5 L149.4 94.56 L150.4 94.63 L151.4 94.69 L152.4 94.77 L153.4 94.85 L154.4 94.93 L155.4 95.03 L156.4 95.12 L157.4 95.22 L158.4 95.33 L159.4 95.44 L160.4 95.56 L161.4 95.68 L162.4 95.81 L163.4 95.95 L164.4 96.08 L165.4 96.23 L166.4 96.38 L167.4 96.53 L168.4 96.69 L169.4 96.85 L170.4 97.02 L171.4 97.19 L172.4 97.37 L173.4 97.56 L174.4 97.74 L175.4 97.94 L176.4 98.13 L177.4 98.34 L178.4 98.54 L179.4 98.75 L180.4 98.97 L181.4 99.19 L182.4 99.41 L183.4 99.64 L184.4 99.87 L185.4 100.11 L186.4 100.35 L187.4 100.6 L188.4 100.86 L189.4 101.16 L190.4 101.48 L191.4 101.83 L192.4 102.21 L193.4 102.61 L194.4 103.03 L195.4 103.48 L196.4 103.94 L197.4 104.43 L198.4 104.93 L199.4 105.44 L200.4 105.98 L201.4 106.56 L202.4 107.18 L203.4 107.84 L204.4 108.54 L205.4 109.27 L206.4 110.03 L207.4 110.82 L208.4 111.63 L209.4 112.47 L210.4 113.33 L211.4 114.2 L212.4 115.1 L213.4 116 L214.4 116.91 L215.4 117.83 L216.4 118.76 L217.4 119.74 L218.4 120.75 L219.4 121.8 L220.4 122.88 L221.4 123.99 L222.4 125.12 L223.4 126.28 L224.4 127.45 L225.4 128.63 L226.4 129.81 L227.4 131 L228.4 132.19 L229.4 133.39 L230.4 134.6 L231.4 135.83 L232.4 137.1 L233.4 138.4 L234.4 139.76 L235.4 141.17 L236.4 142.64 L237.4 144.19 L238.4 145.8 L239.4 147.46 L240.4 149.18 L241.4 150.94 L242.4 152.73 L243.4 154.54 L244.4 156.38 L245.4 158.22 L246.4 160.06 L247.4 161.9 L248.4 163.74 L249.4 165.62 L250.4 167.55 L251.4 169.51 L252.4 171.48 L253.4 173.43 L254.4 175.35 L255.4 177.21 L256.4 179 L257.4 180.75 L258.4 182.5 L259.4 184.24 L260.4 185.96 L261.4 187.65 L262.4 189.29 L263.4 190.89 L264.4 192.42 L265.4 193.87 L266.4 195.23 L267.4 196.5 L268.4 197.71 L269.4 198.88 L270.4 200.02 L271.4 201.09 L272.4 202.09 L273.4 202.99 L274.4 203.77 L275.4 204.42 L276.4 205.02 L277.4 205.59 L278.4 206.13 L279.4 206.64 L280.4 207.1 L281.4 207.51 L282.4 207.86 L283.4 208.14 L284.4 208.34 L285.4 208.48 L286.4 208.6 L287.4 208.71 L288.4 208.81 L289.4 208.91 L290.4 208.99 L291.4 209.07 L292.4 209.14 L293.4 209.2 L294.4 209.26 L295.4 209.3 L296.4 209.34 L297.4 209.38 L298.4 209.4 L299.4 209.42 L300.4 209.44 L301.4 209.46 L302.4 209.47 L303.4 209.49 L304.4 209.49 L305.4 209.5 L306.4 209.5 L307.4 209.5 L308.4 209.5 L309.4 209.5 L310.4 209.5 L311.4 209.5 L312.4 209.5 L313.4 209.5 L314.4 209.5 L315.4 209.5 L316.4 209.5 L317.4 209.5 L318.4 209.5 L319.4 209.5 L320.4 209.5 L321.4 209.5 L322.4 209.5 L323.4 209.5 L324.4 209.5 L325.4 209.5 L326.4 209.5 L327.4 209.5 L328.4 209.5 L329.4 209.5 L330.4 209.5 L331.4 209.5 L332.4 209.5 L333.4 209.5 L334.4 209.5 L335.4 209.5 L336.4 209.5 L337.4 209.5 L338.4 209.5 L339.4 209.5 L340.4 209.5 L341.4 209.5 L342.4 209.5 L343.4 209.5 L344.4 209.5 L345.4 209.5 L346.4 209.5 L347.4 209.5 L348.4 209.5 L349.4 209.5 L350.4 209.5 L351.4 209.5 L352.4 209.5 L353.4 209.5 L354.4 209.5 L355.4 209.5 L356.4 209.5 L357.4 209.5 L358.4 209.5 L359.4 209.5 L360.4 209.5 L361.4 209.5 L362.4 209.5 L363.4 209.5 L364.4 209.5 L365.4 209.5 L366.4 209.5 L367.4 209.5 L368.4 209.5 L369.4 209.5 L370.4 209.5 L371.4 209.5 L372.4 209.5 L373.4 209.5 L374.4 209.5 L375.4 209.5 L376.4 209.5 L377.4 209.5 L378.4 209.5 L379.4 209.5 L380.4 209.5 L381.4 209.5 L382.4 209.5 L383.4 209.5 L384.4 209.5 L385.4 209.5 L386.4 209.5 L387.4 209.5 L388.4 209.5 L389.4 209.5 L390.4 209.5 L391.4 209.5 L392.4 209.5 L393.4 209.5 L394.4 209.5 L395.4 209.5 L396.4 209.5 L397.4 209.5 L398.4 209.5 L399.4 209.5 L400.4 209.5 L401.4 209.5 L402.4 209.5 L403.4 209.5 L404.4 209.5 L405.4 209.5 L406.4 209.5 L407.4 209.5 L408.4 209.5 L409.4 209.5 L410.4 209.5 L411.4 209.5 L412.4 209.5 L413.4 209.5 L414.4 209.5 L415.4 209.5 L416.4 209.5 L417.4 209.5 L418.4 209.5 L419.4 209.5 L420.4 209.5 L421.4 209.5 L422.4 209.5 L423.4 209.5 L424.4 209.5 L425.4 209.5 L426.4 209.5 L427.4 209.5" fill="none" stroke="#ff00ff" stroke-width="1.15" stroke-linejoin="round"/>
</g>
<rect x="90.6" y="74.4" width="336.85" height="318.9" fill="none" stroke="#000" stroke-width="1.4"/>
<path d="M93.5 393.3v-3.5M93.5 74.4v3.5M97.4 393.3v-5.9M97.4 74.4v5.9M118.24 393.3v-3.5M118.24 74.4v3.5M130.43 393.3v-3.5M130.43 74.4v3.5M139.07 393.3v-3.5M139.07 74.4v3.5M145.78 393.3v-3.5M145.78 74.4v3.5M151.26 393.3v-3.5M151.26 74.4v3.5M155.9 393.3v-3.5M155.9 74.4v3.5M159.91 393.3v-3.5M159.91 74.4v3.5M163.45 393.3v-3.5M163.45 74.4v3.5M166.62 393.3v-5.9M166.62 74.4v5.9M187.46 393.3v-3.5M187.46 74.4v3.5M199.65 393.3v-3.5M199.65 74.4v3.5M208.29 393.3v-3.5M208.29 74.4v3.5M215 393.3v-3.5M215 74.4v3.5M220.48 393.3v-3.5M220.48 74.4v3.5M225.12 393.3v-3.5M225.12 74.4v3.5M229.13 393.3v-3.5M229.13 74.4v3.5M232.67 393.3v-3.5M232.67 74.4v3.5M235.84 393.3v-5.9M235.84 74.4v5.9M256.68 393.3v-3.5M256.68 74.4v3.5M268.87 393.3v-3.5M268.87 74.4v3.5M277.51 393.3v-3.5M277.51 74.4v3.5M284.22 393.3v-3.5M284.22 74.4v3.5M289.7 393.3v-3.5M289.7 74.4v3.5M294.34 393.3v-3.5M294.34 74.4v3.5M298.35 393.3v-3.5M298.35 74.4v3.5M301.89 393.3v-3.5M301.89 74.4v3.5M305.06 393.3v-5.9M305.06 74.4v5.9M325.9 393.3v-3.5M325.9 74.4v3.5M338.09 393.3v-3.5M338.09 74.4v3.5M346.73 393.3v-3.5M346.73 74.4v3.5M353.44 393.3v-3.5M353.44 74.4v3.5M358.92 393.3v-3.5M358.92 74.4v3.5M363.56 393.3v-3.5M363.56 74.4v3.5M367.57 393.3v-3.5M367.57 74.4v3.5M371.11 393.3v-3.5M371.11 74.4v3.5M374.28 393.3v-5.9M374.28 74.4v5.9M395.12 393.3v-3.5M395.12 74.4v3.5M407.31 393.3v-3.5M407.31 74.4v3.5M415.95 393.3v-3.5M415.95 74.4v3.5M422.66 393.3v-3.5M422.66 74.4v3.5M90.6 375.42h5.9M427.45 375.42h-5.9M90.6 340.03h3.5M427.45 340.03h-3.5M90.6 304.64h5.9M427.45 304.64h-5.9M90.6 269.25h3.5M427.45 269.25h-3.5M90.6 233.86h5.9M427.45 233.86h-5.9M90.6 198.47h3.5M427.45 198.47h-3.5M90.6 163.08h5.9M427.45 163.08h-5.9M90.6 127.69h3.5M427.45 127.69h-3.5M90.6 92.3h5.9M427.45 92.3h-5.9" stroke="#000" stroke-width="1.25" fill="none"/>
<text class="s" transform="translate(84.3 98.2) scale(0.910 1)" font-size="21.3" text-anchor="end">1.0</text>
<text class="s" transform="translate(84.3 168.98) scale(0.910 1)" font-size="21.3" text-anchor="end">0.8</text>
<text class="s" transform="translate(84.3 239.76) scale(0.910 1)" font-size="21.3" text-anchor="end">0.6</text>
<text class="s" transform="translate(84.3 310.54) scale(0.910 1)" font-size="21.3" text-anchor="end">0.4</text>
<text class="s" transform="translate(84.3 381.32) scale(0.910 1)" font-size="21.3" text-anchor="end">0.2</text>
<text class="s" transform="translate(97.4 413.9) scale(0.910 1)" font-size="21.3" text-anchor="middle">1</text>
<text class="s" transform="translate(166.62 413.9) scale(0.910 1)" font-size="21.3" text-anchor="middle">10</text>
<text class="s" transform="translate(235.84 413.9) scale(0.910 1)" font-size="21.3" text-anchor="middle">100</text>
<text class="s" transform="translate(305.06 413.9) scale(0.910 1)" font-size="21.3" text-anchor="middle">1000</text>
<text class="s" transform="translate(374.28 413.9) scale(0.910 1)" font-size="21.3" text-anchor="middle">10000</text>
<text class="s" x="259" y="441.2" font-size="22" text-anchor="middle">Time delay <tspan class="r">Δ</tspan>t (ps)</text>
<g transform="translate(44 274.2) rotate(-90)">
<text class="s" x="0" y="0" font-size="22">|</text>
<text class="r" x="6" y="0" font-size="21">g</text>
<text class="s" x="16.4" y="-9.3" font-size="15">(1)</text>
<text class="s" x="42.6" y="0" font-size="22">(</text>
<text class="r" x="49.6" y="0" font-size="22">Δ</text>
<text class="s" x="62.6" y="0" font-size="22">t)</text>
<text class="s" x="76.2" y="0" font-size="22">|</text>
</g>
<circle cx="108.5" cy="249.2" r="8.6" fill="#ff0000"/>
<text class="s" y="254.2" font-size="13.9"><tspan class="r" font-size="15.2" x="132.9">Ω</tspan><tspan x="149.1">=</tspan><tspan x="161.4">0.030</tspan><tspan class="r" font-size="15.8" x="202">Γ</tspan><tspan class="bar" font-size="13" x="213.6" dy="2.8" letter-spacing="0.6">||</tspan></text>
<circle cx="108.5" cy="274.5" r="7.8" fill="#fff" stroke="#00ff00" stroke-width="1.2"/>
<text class="s" y="279.5" font-size="13.9"><tspan class="r" font-size="15.2" x="132.9">Ω</tspan><tspan x="149.1">=</tspan><tspan x="161.4">0.13</tspan><tspan class="r" font-size="15.8" x="194.8">Γ</tspan><tspan class="bar" font-size="13" x="206.2" dy="2.8" letter-spacing="0.6">||</tspan></text>
<polygon points="97.9,300 108.5,289.4 119.1,300 108.5,310.6" fill="#0000ff"/>
<text class="s" y="305" font-size="13.9"><tspan class="r" font-size="15.2" x="132.9">Ω</tspan><tspan x="149.1">=</tspan><tspan x="161.4">0.30</tspan><tspan class="r" font-size="15.8" x="194.8">Γ</tspan><tspan class="bar" font-size="13" x="206.2" dy="2.8" letter-spacing="0.6">||</tspan></text>
<polygon points="98.7,324.8 108.5,315 118.3,324.8 108.5,334.6" fill="#fff" stroke="#ff00ff" stroke-width="1.2"/>
<text class="s" y="329.8" font-size="13.9"><tspan class="r" font-size="15.2" x="132.9">Ω</tspan><tspan x="149.1">=</tspan><tspan x="161.4">0.42</tspan><tspan class="r" font-size="15.8" x="194.8">Γ</tspan><tspan class="bar" font-size="13" x="206.2" dy="2.8" letter-spacing="0.6">||</tspan></text>
<rect x="100.7" y="343" width="15.6" height="15.6" fill="#000"/>
<text class="s" y="355.8" font-size="13.9"><tspan class="r" font-size="15.2" x="128.8">Ω</tspan><tspan x="145">=</tspan><tspan x="157">0.60</tspan><tspan class="r" font-size="15.8" x="189.8">Γ</tspan><tspan class="bar" font-size="13" x="201.4" dy="2.8" letter-spacing="0.6">||</tspan></text>
<polygon points="108.5,365.9 110.92,372.87 118.3,373.02 112.42,377.47 114.55,384.53 108.5,380.32 102.45,384.53 104.58,377.47 98.7,373.02 106.08,372.87" fill="#008000"/>
<text class="s" y="380.6" font-size="13.9"><tspan class="r" font-size="15.2" x="128.8">Ω</tspan><tspan x="145">=</tspan><tspan x="157">1.3</tspan><tspan class="r" font-size="15.8" x="185.8">Γ</tspan><tspan class="bar" font-size="13" x="197.6" dy="2.8" letter-spacing="0.6">||</tspan></text>
</g>
<g id="panel-b">
<text class="s" transform="translate(474.2 50.2) scale(1.040 1)" font-size="36.2" text-anchor="start">(b)</text>
<g>
<path d="M525.7 152.35 L525.95 152.89 L526.2 153.43 L526.45 153.96 L526.7 154.44 L526.95 154.86 L527.2 155.18 L527.45 155.4 L527.7 155.51 L527.95 155.48 L528.2 155.34 L528.45 155.07 L528.7 154.69 L528.95 154.23 L529.2 153.69 L529.45 153.11 L529.7 152.51 L529.95 151.92 L530.2 151.37 L530.45 150.89 L530.7 150.49 L530.95 150.21 L531.2 150.06 L531.45 150.04 L531.7 150.15 L531.95 150.41 L532.2 150.78 L532.45 151.26 L532.7 151.83 L532.95 152.46 L533.2 153.11 L533.45 153.77 L533.7 154.39 L533.95 154.95 L534.2 155.41 L534.45 155.76 L534.7 155.98 L534.95 156.05 L535.2 155.97 L535.45 155.74 L535.7 155.38 L535.95 154.88 L536.2 154.29 L536.45 153.62 L536.7 152.9 L536.95 152.18 L537.2 151.48 L537.45 150.84 L537.7 150.3 L537.95 149.87 L538.2 149.58 L538.45 149.45 L538.7 149.48 L538.95 149.68 L539.2 150.04 L539.45 150.54 L539.7 151.15 L539.95 151.87 L540.2 152.64 L540.45 153.43 L540.7 154.21 L540.95 154.93 L541.2 155.57 L541.45 156.08 L541.7 156.45 L541.95 156.66 L542.2 156.68 L542.45 156.52 L542.7 156.18 L542.95 155.69 L543.2 155.05 L543.45 154.3 L543.7 153.47 L543.95 152.6 L544.2 151.74 L544.45 150.92 L544.7 150.19 L544.95 149.58 L545.2 149.12 L545.45 148.84 L545.7 148.75 L545.95 148.86 L546.2 149.16 L546.45 149.65 L546.7 150.31 L546.95 151.09 L547.2 151.97 L547.45 152.91 L547.7 153.86 L547.95 154.78 L548.2 155.61 L548.45 156.33 L548.7 156.89 L548.95 157.26 L549.2 157.43 L549.45 157.38 L549.7 157.12 L549.95 156.65 L550.2 155.99 L550.45 155.17 L550.7 154.24 L550.95 153.23 L551.2 152.19 L551.45 151.17 L551.7 150.22 L551.95 149.39 L552.2 148.72 L552.45 148.25 L552.7 147.99 L552.95 147.96 L553.2 148.17 L553.45 148.62 L553.7 149.27 L553.95 150.11 L554.2 151.09 L554.45 152.17 L554.7 153.3 L554.95 154.43 L555.2 155.49 L555.45 156.45 L555.7 157.24 L555.95 157.83 L556.2 158.19 L556.45 158.31 L556.7 158.16 L556.95 157.76 L557.2 157.11 L557.45 156.26 L557.7 155.24 L557.95 154.09 L558.2 152.87 L558.45 151.63 L558.7 150.44 L558.95 149.36 L559.2 148.43 L559.45 147.71 L559.7 147.23 L559.95 147.02 L560.2 147.09 L560.45 147.43 L560.7 148.05 L560.95 148.91 L561.2 149.97 L561.45 151.18 L561.7 152.5 L561.95 153.84 L562.2 155.16 L562.45 156.39 L562.7 157.46 L562.95 158.32 L563.2 158.93 L563.45 159.26 L563.7 159.29 L563.95 159.01 L564.2 158.43 L564.45 157.58 L564.7 156.49 L564.95 155.21 L565.2 153.81 L565.45 152.35 L565.7 150.9 L565.95 149.53 L566.2 148.3 L566.45 147.29 L566.7 146.53 L566.95 146.06 L567.2 145.93 L567.45 146.12 L567.7 146.65 L567.95 147.48 L568.2 148.59 L568.45 149.91 L568.7 151.4 L568.95 152.97 L569.2 154.56 L569.45 156.09 L569.7 157.48 L569.95 158.66 L570.2 159.59 L570.45 160.2 L570.7 160.46 L570.95 160.37 L571.2 159.91 L571.45 159.11 L571.7 158 L571.95 156.64 L572.2 155.08 L572.45 153.39 L572.7 151.66 L572.95 149.97 L573.2 148.41 L573.45 147.04 L573.7 145.94 L573.95 145.16 L574.2 144.75 L574.45 144.72 L574.7 145.09 L574.95 145.84 L575.2 146.94 L575.45 148.33 L575.7 149.97 L575.95 151.76 L576.2 153.63 L576.45 155.48 L576.7 157.23 L576.95 158.79 L577.2 160.09 L577.45 161.05 L577.7 161.63 L577.95 161.8 L578.2 161.54 L578.45 160.86 L578.7 159.79 L578.95 158.37 L579.2 156.68 L579.45 154.78 L579.7 152.78 L579.95 150.76 L580.2 148.81 L580.45 147.05 L580.7 145.54 L580.95 144.38 L581.2 143.61 L581.45 143.28 L581.7 143.41 L581.95 144 L582.2 145.03 L582.45 146.44 L582.7 148.18 L582.95 150.17 L583.2 152.31 L583.45 154.51 L583.7 156.64 L583.95 158.63 L584.2 160.35 L584.45 161.74 L584.7 162.72 L584.95 163.23 L585.2 163.25 L585.45 162.78 L585.7 161.82 L585.95 160.42 L586.2 158.65 L586.45 156.57 L586.7 154.3 L586.95 151.94 L587.2 149.6 L587.45 147.39 L587.7 145.43 L587.95 143.8 L588.2 142.6 L588.45 141.87 L588.7 141.67 L588.95 142.01 L589.2 142.88 L589.45 144.24 L589.7 146.03 L589.95 148.17 L590.2 150.57 L590.45 153.09 L590.7 155.64 L590.95 158.08 L591.2 160.3 L591.45 162.18 L591.7 163.64 L591.95 164.59 L592.2 164.99 L592.45 164.82 L592.7 164.06 L592.95 162.76 L593.2 160.98 L593.45 158.78 L593.7 156.28 L593.95 153.59 L594.2 150.84 L594.45 148.16 L594.7 145.68 L594.95 143.53 L595.2 141.8 L595.45 140.59 L595.7 139.96 L595.95 139.94 L596.2 140.55 L596.45 141.76 L596.7 143.52 L596.95 145.75 L597.2 148.35 L597.45 151.19 L597.7 154.14 L597.95 157.07 L598.2 159.82 L598.45 162.27 L598.7 164.29 L598.95 165.78 L599.2 166.67 L599.45 166.9 L599.7 166.46 L599.95 165.36 L600.2 163.66 L600.45 161.41 L600.7 158.74 L600.95 155.76 L601.2 152.61 L601.45 149.44 L601.7 146.41 L601.95 143.66 L602.2 141.33 L602.45 139.53 L602.7 138.36 L602.95 137.88 L603.2 138.11 L603.45 139.06 L603.7 140.69 L603.95 142.92 L604.2 145.65 L604.45 148.76 L604.7 152.1 L604.95 155.51 L605.2 158.82 L605.45 161.89 L605.7 164.55 L605.95 166.67 L606.2 168.16 L606.45 168.92 L606.7 168.92 L606.95 168.15 L607.2 166.64 L607.45 164.45 L607.7 161.68 L607.95 158.47 L608.2 154.95 L608.45 151.3 L608.7 147.7 L608.95 144.31 L609.2 141.3 L609.45 138.83 L609.7 137 L609.95 135.93 L610.2 135.66 L610.45 136.22 L610.7 137.58 L610.95 139.7 L611.2 142.47 L611.45 145.77 L611.7 149.45 L611.95 153.32 L612.2 157.21 L612.45 160.93 L612.7 164.3 L612.95 167.15 L613.2 169.34 L613.45 170.76 L613.7 171.33 L613.95 171.02 L614.2 169.84 L614.45 167.83 L614.7 165.08 L614.95 161.72 L615.2 157.91 L615.45 153.82 L615.7 149.65 L615.95 145.59 L616.2 141.85 L616.45 138.61 L616.7 136.03 L616.95 134.24 L617.2 133.32 L617.45 133.35 L617.7 134.31 L617.95 136.17 L618.2 138.86 L618.45 142.25 L618.7 146.18 L618.95 150.47 L619.2 154.91 L619.45 159.3 L619.7 163.42 L619.95 167.07 L620.2 170.07 L620.45 172.27 L620.7 173.55 L620.95 173.86 L621.2 173.16 L621.45 171.47 L621.7 168.88 L621.95 165.5 L622.2 161.48 L622.45 157.01 L622.7 152.31 L622.95 147.6 L623.2 143.09 L623.45 139.02 L623.7 135.59 L623.95 132.96 L624.2 131.26 L624.45 130.59 L624.7 130.99 L624.95 132.44 L625.2 134.9 L625.45 138.24 L625.7 142.31 L625.95 146.93 L626.2 151.87 L626.45 156.91 L626.7 161.79 L626.95 166.29 L627.2 170.19 L627.45 173.28 L627.7 175.42 L627.95 176.49 L628.2 176.44 L628.45 175.26 L628.7 172.98 L628.95 169.73 L629.2 165.64 L629.45 160.9 L629.7 155.74 L629.95 150.39 L630.2 145.13 L630.45 140.19 L630.7 135.83 L630.95 132.25 L631.2 129.64 L631.45 128.12 L631.7 127.78 L631.95 128.65 L632.2 130.69 L632.45 133.82 L632.7 137.89 L632.95 142.71 L633.2 148.07 L633.45 153.69 L633.7 159.33 L633.95 164.7 L634.2 169.55 L634.45 173.63 L634.7 176.75 L634.95 178.75 L635.2 179.52 L635.45 179.01 L635.7 177.25 L635.95 174.3 L636.2 170.3 L636.45 165.43 L636.7 159.92 L636.95 154.03 L637.2 148.04 L637.45 142.23 L637.7 136.9 L637.95 132.29 L638.2 128.64 L638.45 126.13 L638.7 124.89 L638.95 124.98 L639.2 126.42 L639.45 129.14 L639.7 133.02 L639.95 137.89 L640.2 143.52 L640.45 149.64 L640.7 155.97 L640.95 162.19 L641.2 168.01 L641.45 173.15 L641.7 177.36 L641.95 180.42 L642.2 182.18 L642.45 182.54 L642.7 181.48 L642.95 179.04 L643.2 175.33 L643.45 170.51 L643.7 164.8 L643.95 158.49 L644.2 151.86 L644.45 145.23 L644.7 138.92 L644.95 133.24 L645.2 128.46 L645.45 124.83 L645.7 122.51 L645.95 121.65 L646.2 122.27 L646.45 124.38 L646.7 127.87 L646.95 132.59 L647.2 138.32 L647.45 144.79 L647.7 151.69 L647.95 158.7 L648.2 165.48 L648.45 171.71 L648.7 177.07 L648.95 181.31 L649.2 184.21 L649.45 185.62 L649.7 185.47 L649.95 183.76 L650.2 180.55 L650.45 175.99 L650.7 170.29 L650.95 163.71 L651.2 156.58 L651.45 149.21 L651.7 141.98 L651.95 135.22 L652.2 129.27 L652.45 124.41 L652.7 120.89 L652.95 118.89 L653.2 118.5 L653.45 119.77 L653.7 122.64 L653.95 126.98 L654.2 132.6 L654.45 139.22 L654.7 146.55 L654.95 154.23 L655.2 161.89 L655.45 169.17 L655.7 175.72 L655.95 181.21 L656.2 185.37 L656.45 188 L656.7 188.96 L656.95 188.19 L657.2 185.72 L657.45 181.66 L657.7 176.2 L657.95 169.57 L658.2 162.11 L658.45 154.16 L658.7 146.1 L658.95 138.32 L659.2 131.19 L659.45 125.06 L659.7 120.23 L659.95 116.95 L660.2 115.37 L660.45 115.58 L660.7 117.59 L660.95 121.31 L661.2 126.57 L661.45 133.12 L661.7 140.66 L661.95 148.83 L662.2 157.25 L662.45 165.5 L662.7 173.2 L662.95 179.96 L663.2 185.47 L663.45 189.43 L663.7 191.67 L663.95 192.06 L664.2 190.57 L664.45 187.26 L664.7 182.28 L664.95 175.86 L665.2 168.31 L665.45 159.97 L665.7 151.25 L665.95 142.56 L666.2 134.32 L666.45 126.93 L666.7 120.75 L666.95 116.08 L667.2 113.15 L667.45 112.12 L667.7 113.04 L667.95 115.88 L668.2 120.51 L668.45 126.72 L668.7 134.22 L668.95 142.66 L669.2 151.63 L669.45 160.7 L669.7 169.45 L669.95 177.45 L670.2 184.3 L670.45 189.69 L670.7 193.33 L670.95 195.05 L671.2 194.75 L671.45 192.44 L671.7 188.23 L671.95 182.29 L672.2 174.92 L672.45 166.45 L672.7 157.3 L672.95 147.89 L673.2 138.68 L673.45 130.11 L673.7 122.59 L673.95 116.5 L674.2 112.12 L674.45 109.68 L674.7 109.31 L674.95 111.03 L675.2 114.77 L675.45 120.35 L675.7 127.52 L675.95 135.94 L676.2 145.21 L676.45 154.88 L676.7 164.51 L676.95 173.61 L677.2 181.76 L677.45 188.56 L677.7 193.67 L677.95 196.85 L678.2 197.92 L678.45 196.85 L678.7 193.66 L678.95 188.5 L679.2 181.61 L679.45 173.32 L679.7 164.01 L679.95 154.14 L680.2 144.17 L680.45 134.59 L680.7 125.85 L680.95 118.37 L681.2 112.53 L681.45 108.6 L681.7 106.78 L681.95 107.18 L682.2 109.76 L682.45 114.43 L682.7 120.96 L682.95 129.04 L683.2 138.29 L683.45 148.27 L683.7 158.51 L683.95 168.51 L684.2 177.79 L684.45 185.91 L684.7 192.46 L684.95 197.14 L685.2 199.71 L685.45 200.04 L685.7 198.11 L685.95 194 L686.2 187.91 L686.45 180.13 L686.7 171.02 L686.95 161.02 L687.2 150.6 L687.45 140.27 L687.7 130.52 L687.95 121.82 L688.2 114.59 L688.45 109.18 L688.7 105.86 L688.95 104.79 L689.2 106.02 L689.45 109.51 L689.7 115.08 L689.95 122.48 L690.2 131.35 L690.45 141.26 L690.7 151.75 L690.95 162.32 L691.2 172.44 L691.45 181.64 L691.7 189.47 L691.95 195.56 L692.2 199.6 L692.45 201.41 L692.7 200.89 L692.95 198.06 L693.2 193.05 L693.45 186.12 L693.7 177.61 L693.95 167.92 L694.2 157.53 L694.45 146.92 L694.7 136.62 L694.95 127.12 L695.2 118.86 L695.45 112.26 L695.7 107.6 L695.95 105.13 L696.2 104.95 L696.45 107.07 L696.7 111.37 L696.95 117.65 L697.2 125.61 L697.45 134.85 L697.7 144.93 L697.95 155.37 L698.2 165.66 L698.45 175.32 L698.7 183.87 L698.95 190.92 L699.2 196.13 L699.45 199.26 L699.7 200.16 L699.95 198.79 L700.2 195.24 L700.45 189.67 L700.7 182.36 L700.95 173.66 L701.2 164 L701.45 153.84 L701.7 143.67 L701.95 133.98 L702.2 125.23 L702.45 117.83 L702.7 112.13 L702.95 108.4 L703.2 106.82 L703.45 107.45 L703.7 110.24 L703.95 115.07 L704.2 121.68 L704.45 129.77 L704.7 138.92 L704.95 148.71 L705.2 158.66 L705.45 168.3 L705.7 177.16 L705.95 184.82 L706.2 190.92 L706.45 195.18 L706.7 197.4 L706.95 197.49 L707.2 195.44 L707.45 191.37 L707.7 185.48 L707.95 178.05 L708.2 169.46 L708.45 160.11 L708.7 150.47 L708.95 140.98 L709.2 132.1 L709.45 124.27 L709.7 117.83 L709.95 113.11 L710.2 110.3 L710.45 109.55 L710.7 110.87 L710.95 114.2 L711.2 119.35 L711.45 126.09 L711.7 134.07 L711.95 142.91 L712.2 152.19 L712.45 161.45 L712.7 170.26 L712.95 178.19 L713.2 184.87 L713.45 189.99 L713.7 193.31 L713.95 194.68 L714.2 194.05 L714.45 191.46 L714.7 187.04 L714.95 181.01 L715.2 173.67 L715.45 165.38 L715.7 156.53 L715.95 147.56 L716.2 138.9 L716.45 130.96 L716.7 124.1 L716.95 118.66 L717.2 114.89 L717.45 112.95 L717.7 112.94 L717.95 114.83 L718.2 118.53 L718.45 123.85 L718.7 130.53 L718.95 138.23 L719.2 146.6 L719.45 155.21 L719.7 163.66 L719.95 171.55 L720.2 178.5 L720.45 184.18 L720.7 188.34 L720.95 190.78 L721.2 191.39 L721.45 190.17 L721.7 187.17 L721.95 182.55 L722.2 176.54 L722.45 169.45 L722.7 161.6 L722.95 153.4 L723.2 145.21 L723.45 137.45 L723.7 130.48 L723.95 124.62 L724.2 120.15 L724.45 117.27 L724.7 116.11 L724.95 116.71 L725.2 119.04 L725.45 122.97 L725.7 128.31 L725.95 134.78 L726.2 142.08 L726.45 149.84 L726.7 157.7 L726.95 165.28 L727.2 172.21 L727.45 178.18 L727.7 182.9 L727.95 186.15 L728.2 187.8 L728.45 187.76 L728.7 186.07 L728.95 182.8 L729.2 178.12 L729.45 172.28 L729.7 165.55 L729.95 158.26 L730.2 150.77 L730.45 143.44 L730.7 136.6 L730.95 130.59 L731.2 125.69 L731.45 122.13 L731.7 120.06 L731.95 119.57 L732.2 120.67 L732.45 123.31 L732.7 127.34 L732.95 132.56 L733.2 138.71 L733.45 145.5 L733.7 152.59 L733.95 159.64 L734.2 166.32 L734.45 172.31 L734.7 177.33 L734.95 181.14 L735.2 183.58 L735.45 184.54 L735.7 183.98 L735.95 181.94 L736.2 178.53 L736.45 173.92 L736.7 168.34 L736.95 162.07 L737.2 155.41 L737.45 148.68 L737.7 142.21 L737.95 136.29 L738.2 131.21 L738.45 127.21 L738.7 124.46 L738.95 123.1 L739.2 123.16 L739.45 124.64 L739.7 127.46 L739.95 131.48 L740.2 136.48 L740.45 142.23 L740.7 148.44 L740.95 154.81 L741.2 161.04 L741.45 166.84 L741.7 171.92 L741.95 176.05 L742.2 179.05 L742.45 180.77 L742.7 181.15 L742.95 180.18 L743.2 177.92 L743.45 174.48 L743.7 170.04 L743.95 164.81 L744.2 159.06 L744.45 153.07 L744.7 147.11 L744.95 141.49 L745.2 136.45 L745.45 132.24 L745.7 129.05 L745.95 127.02 L746.2 126.25 L746.45 126.75 L746.7 128.5 L746.95 131.4 L747.2 135.3 L747.45 140 L747.7 145.28 L747.95 150.88 L748.2 156.53 L748.45 161.96 L748.7 166.9 L748.95 171.14 L749.2 174.47 L749.45 176.74 L749.7 177.86 L749.95 177.78 L750.2 176.51 L750.45 174.12 L750.7 170.74 L750.95 166.55 L751.2 161.73 L751.45 156.54 L751.7 151.22 L751.95 146.03 L752.2 141.21 L752.45 136.99 L752.7 133.57 L752.95 131.1 L753.2 129.69 L753.45 129.4 L753.7 130.23 L753.95 132.14 L754.2 135.03 L754.45 138.73 L754.7 143.08 L754.95 147.86 L755.2 152.84 L755.45 157.77 L755.7 162.43 L755.95 166.59 L756.2 170.06 L756.45 172.68 L756.7 174.33 L756.95 174.95 L757.2 174.5 L757.45 173.03 L757.7 170.62 L757.95 167.38 L758.2 163.48 L758.45 159.11 L758.7 154.49 L758.95 149.83 L759.2 145.37 L759.45 141.3 L759.7 137.83 L759.95 135.11 L760.2 133.26 L760.45 132.36 L760.7 132.46 L760.95 133.52 L761.2 135.5 L761.45 138.3 L761.7 141.76 L761.95 145.72 L762.2 149.98 L762.45 154.35 L762.7 158.6 L762.95 162.54 L763.2 165.98 L763.45 168.77 L763.7 170.77 L763.95 171.9 L764.2 172.11 L764.45 171.41 L764.7 169.83 L764.95 167.46 L765.2 164.41 L765.45 160.85 L765.7 156.95 L765.95 152.88 L766.2 148.86 L766.45 145.07 L766.7 141.7 L766.95 138.88 L767.2 136.77 L767.45 135.44 L767.7 134.97 L767.95 135.35 L768.2 136.56 L768.45 138.54 L768.7 141.18 L768.95 144.36 L769.2 147.92 L769.45 151.67 L769.7 155.45 L769.95 159.06 L770.2 162.35 L770.45 165.15 L770.7 167.34 L770.95 168.82 L771.2 169.53 L771.45 169.43 L771.7 168.55 L771.95 166.93 L772.2 164.66 L772.45 161.85 L772.7 158.65 L772.95 155.2 L773.2 151.68 L773.45 148.25 L773.7 145.08 L773.95 142.31 L774.2 140.08 L774.45 138.48 L774.7 137.59 L774.95 137.44 L775.2 138.02 L775.45 139.31 L775.7 141.23 L775.95 143.69 L776.2 146.56 L776.45 149.7 L776.7 152.97 L776.95 156.19 L777.2 159.23 L777.45 161.93 L777.7 164.17 L777.95 165.85 L778.2 166.9 L778.45 167.27 L778.7 166.95 L778.95 165.96 L779.2 164.36 L779.45 162.23 L779.7 159.68 L779.95 156.84 L780.2 153.83 L780.45 150.82 L780.7 147.93 L780.95 145.32 L781.2 143.09 L781.45 141.36 L781.7 140.19 L781.95 139.64 L782.2 139.73 L782.45 140.45 L782.7 141.75 L782.95 143.57 L783.2 145.81 L783.45 148.37 L783.7 151.12 L783.95 153.92 L784.2 156.64 L784.45 159.15 L784.7 161.34 L784.95 163.1 L785.2 164.36 L785.45 165.05 L785.7 165.16 L785.95 164.69 L786.2 163.65 L786.45 162.12 L786.7 160.16 L786.95 157.88 L787.2 155.39 L787.45 152.81 L787.7 150.26 L787.95 147.86 L788.2 145.73 L788.45 143.97 L788.7 142.65 L788.95 141.83 L789.2 141.55 L789.45 141.82 L789.7 142.61 L789.95 143.88 L790.2 145.57 L790.45 147.59 L790.7 149.83 L790.95 152.2 L791.2 154.58 L791.45 156.84 L791.7 158.9 L791.95 160.64 L792.2 162 L792.45 162.91 L792.7 163.33 L792.95 163.24 L793.2 162.67 L793.45 161.64 L793.7 160.2 L793.95 158.43 L794.2 156.42 L794.45 154.26 L794.7 152.07 L794.95 149.94 L795.2 147.97 L795.45 146.26 L795.7 144.89 L795.95 143.92 L796.2 143.38 L796.45 143.31 L796.7 143.69 L796.95 144.51 L797.2 145.71 L797.45 147.25 L797.7 149.04 L797.95 150.99 L798.2 153.01 L798.45 154.99 L798.7 156.86 L798.95 158.52 L799.2 159.88 L799.45 160.9 L799.7 161.53 L799.95 161.74 L800.2 161.52 L800.45 160.9 L800.7 159.9 L800.95 158.58 L801.2 157.01 L801.45 155.26 L801.7 153.41 L801.95 151.57 L802.2 149.81 L802.45 148.22 L802.7 146.87 L802.95 145.82 L803.2 145.13 L803.45 144.81 L803.7 144.88 L803.95 145.34 L804.2 146.14 L804.45 147.26 L804.7 148.64 L804.95 150.2 L805.2 151.87 L805.45 153.57 L805.7 155.22 L805.95 156.73 L806.2 158.05 L806.45 159.1 L806.7 159.85 L806.95 160.26 L807.2 160.31 L807.45 160 L807.7 159.36 L807.95 158.43 L808.2 157.24 L808.45 155.86 L808.7 154.35 L808.95 152.79 L809.2 151.26 L809.45 149.83 L809.7 148.56 L809.95 147.51 L810.2 146.73 L810.45 146.26 L810.7 146.1 L810.95 146.28 L811.2 146.76 L811.45 147.54 L811.7 148.55 L811.95 149.77 L812.2 151.11 L812.45 152.53 L812.7 153.94 L812.95 155.29 L813.2 156.51 L813.45 157.54 L813.7 158.33 L813.95 158.86 L814.2 159.1 L814.45 159.04 L814.7 158.68 L814.95 158.06 L815.2 157.2 L815.45 156.14 L815.7 154.94 L815.95 153.67 L816.2 152.37 L816.45 151.11 L816.7 149.95 L816.95 148.95 L817.2 148.15 L817.45 147.59 L817.7 147.29 L817.95 147.25 L818.2 147.49 L818.45 147.98 L818.7 148.7 L818.95 149.61 L819.2 150.67 L819.45 151.81 L819.7 153 L819.95 154.16 L820.2 155.25 L820.45 156.22 L820.7 157.01 L820.95 157.6 L821.2 157.95 L821.45 158.06 L821.7 157.93 L821.95 157.55 L822.2 156.96 L822.45 156.18 L822.7 155.26 L822.95 154.24 L823.2 153.16 L823.45 152.09 L823.7 151.07 L823.95 150.15 L824.2 149.38 L824.45 148.78 L824.7 148.38 L824.95 148.21 L825.2 148.26 L825.45 148.53 L825.7 149.01 L825.95 149.66 L826.2 150.46 L826.45 151.37 L826.7 152.34 L826.95 153.32 L827.2 154.27 L827.45 155.14 L827.7 155.89 L827.95 156.49 L828.2 156.91 L828.45 157.13 L828.7 157.15 L828.95 156.97 L829.2 156.6 L829.45 156.05 L829.7 155.36 L829.95 154.57 L830.2 153.7 L830.45 152.81 L830.7 151.94 L830.95 151.12 L831.2 150.4 L831.45 149.8 L831.7 149.37 L831.95 149.1 L832.2 149.02 L832.45 149.13 L832.7 149.42 L832.95 149.86 L833.2 150.45 L833.45 151.14 L833.7 151.91 L833.95 152.72 L834.2 153.52 L834.45 154.28 L834.7 154.97 L834.95 155.55 L835.2 155.99 L835.45 156.28 L835.7 156.41 L835.95 156.37 L836.2 156.16 L836.45 155.8 L836.7 155.31 L836.95 154.71 L837.2 154.03 L837.45 153.31 L837.7 152.58 L837.95 151.87 L838.2 151.22 L838.45 150.66 L838.7 150.22 L838.95 149.91 L839.2 149.74 L839.45 149.73 L839.7 149.87 L839.95 150.15 L840.2 150.56 L840.45 151.08 L840.7 151.67 L840.95 152.31 L841.2 152.98 L841.45 153.63 L841.7 154.23 L841.95 154.77 L842.2 155.21 L842.45 155.53 L842.7 155.72 L842.95 155.78 L843.2 155.7 L843.45 155.48 L843.7 155.15 L843.95 154.71 L844.2 154.19 L844.45 153.62 L844.7 153.03 L844.95 152.43 L845.2 151.87 L845.45 151.36 L845.7 150.93 L845.95 150.61 L846.2 150.39 L846.45 150.3 L846.7 150.34 L846.95 150.49 L847.2 150.76 L847.45 151.13 L847.7 151.57 L847.95 152.07 L848.2 152.61 L848.45 153.15 L848.7 153.67 L848.95 154.15 L849.2 154.56 L849.45 154.88 L849.7 155.11 L849.95 155.23 L850.2 155.23 L850.45 155.13 L850.7 154.92 L850.95 154.62 L851.2 154.24 L851.45 153.8 L851.7 153.32 L851.95 152.84 L852.2 152.36 L852.45 151.91 L852.7 151.52 L852.95 151.2 L853.2 150.97 L853.45 150.83 L853.7 150.79 L853.95 150.85 L854.2 151.01 L854.45 151.26 L854.7 151.58 L854.95 151.96 L855.2 152.38 L855.45 152.81 L855.7 153.25 L855.95 153.66 L856.2 154.03 L856.45 154.34 L856.7 154.58 L856.95 154.74 L857.2 154.8 L857.45 154.77 L857.7 154.66 L857.95 154.46 L858.2 154.19 L858.45 153.87 L858.7 153.5 L858.95 153.11 L859.2 152.71 L859.45 152.33" fill="none" stroke="#ff0000" stroke-width="0.8" stroke-linejoin="round"/>
<path d="M525.7 313.1 L525.95 313.2 L526.2 313.22 L526.45 313.14 L526.7 312.97 L526.95 312.72 L527.2 312.39 L527.45 312.01 L527.7 311.57 L527.95 311.11 L528.2 310.65 L528.45 310.19 L528.7 309.77 L528.95 309.41 L529.2 309.11 L529.45 308.89 L529.7 308.77 L529.95 308.75 L530.2 308.83 L530.45 309.01 L530.7 309.28 L530.95 309.64 L531.2 310.07 L531.45 310.54 L531.7 311.05 L531.95 311.57 L532.2 312.08 L532.45 312.54 L532.7 312.96 L532.95 313.29 L533.2 313.54 L533.45 313.68 L533.7 313.71 L533.95 313.63 L534.2 313.43 L534.45 313.14 L534.7 312.74 L534.95 312.27 L535.2 311.75 L535.45 311.19 L535.7 310.61 L535.95 310.05 L536.2 309.53 L536.45 309.07 L536.7 308.69 L536.95 308.41 L537.2 308.25 L537.45 308.21 L537.7 308.29 L537.95 308.5 L538.2 308.82 L538.45 309.25 L538.7 309.77 L538.95 310.35 L539.2 310.97 L539.45 311.6 L539.7 312.22 L539.95 312.81 L540.2 313.32 L540.45 313.74 L540.7 314.06 L540.95 314.25 L541.2 314.3 L541.45 314.22 L541.7 314 L541.95 313.64 L542.2 313.18 L542.45 312.61 L542.7 311.97 L542.95 311.29 L543.2 310.59 L543.45 309.9 L543.7 309.25 L543.95 308.68 L544.2 308.2 L544.45 307.85 L544.7 307.63 L544.95 307.56 L545.2 307.64 L545.45 307.88 L545.7 308.26 L545.95 308.77 L546.2 309.39 L546.45 310.09 L546.7 310.84 L546.95 311.62 L547.2 312.38 L547.45 313.1 L547.7 313.74 L547.95 314.27 L548.2 314.67 L548.45 314.93 L548.7 315.01 L548.95 314.93 L549.2 314.68 L549.45 314.26 L549.7 313.71 L549.95 313.03 L550.2 312.26 L550.45 311.43 L550.7 310.58 L550.95 309.73 L551.2 308.94 L551.45 308.22 L551.7 307.63 L551.95 307.18 L552.2 306.89 L552.45 306.78 L552.7 306.87 L552.95 307.13 L553.2 307.58 L553.45 308.18 L553.7 308.92 L553.95 309.76 L554.2 310.68 L554.45 311.62 L554.7 312.55 L554.95 313.44 L555.2 314.23 L555.45 314.89 L555.7 315.4 L555.95 315.73 L556.2 315.85 L556.45 315.78 L556.7 315.5 L556.95 315.02 L557.2 314.36 L557.45 313.55 L557.7 312.63 L557.95 311.63 L558.2 310.59 L558.45 309.56 L558.7 308.58 L558.95 307.71 L559.2 306.96 L559.45 306.39 L559.7 306.02 L559.95 305.87 L560.2 305.94 L560.45 306.24 L560.7 306.75 L560.95 307.46 L561.2 308.34 L561.45 309.35 L561.7 310.45 L561.95 311.59 L562.2 312.73 L562.45 313.81 L562.7 314.78 L562.95 315.61 L563.2 316.25 L563.45 316.67 L563.7 316.85 L563.95 316.79 L564.2 316.48 L564.45 315.92 L564.7 315.15 L564.95 314.2 L565.2 313.09 L565.45 311.89 L565.7 310.63 L565.95 309.38 L566.2 308.19 L566.45 307.11 L566.7 306.2 L566.95 305.48 L567.2 305 L567.45 304.78 L567.7 304.84 L567.95 305.17 L568.2 305.76 L568.45 306.59 L568.7 307.63 L568.95 308.84 L569.2 310.15 L569.45 311.53 L569.7 312.9 L569.95 314.22 L570.2 315.41 L570.45 316.43 L570.7 317.23 L570.95 317.77 L571.2 318.03 L571.45 317.98 L571.7 317.64 L571.95 317.01 L572.2 316.11 L572.45 314.98 L572.7 313.67 L572.95 312.23 L573.2 310.72 L573.45 309.21 L573.7 307.77 L573.95 306.45 L574.2 305.32 L574.45 304.43 L574.7 303.82 L574.95 303.51 L575.2 303.54 L575.45 303.9 L575.7 304.57 L575.95 305.54 L576.2 306.77 L576.45 308.2 L576.7 309.77 L576.95 311.42 L577.2 313.07 L577.45 314.66 L577.7 316.11 L577.95 317.37 L578.2 318.36 L578.45 319.05 L578.7 319.4 L578.95 319.39 L579.2 319.02 L579.45 318.3 L579.7 317.25 L579.95 315.93 L580.2 314.38 L580.45 312.67 L580.7 310.86 L580.95 309.05 L581.2 307.3 L581.45 305.7 L581.7 304.32 L581.95 303.22 L582.2 302.44 L582.45 302.04 L582.7 302.02 L582.95 302.41 L583.2 303.17 L583.45 304.29 L583.7 305.72 L583.95 307.41 L584.2 309.27 L584.45 311.24 L584.7 313.22 L584.95 315.14 L585.2 316.9 L585.45 318.43 L585.7 319.65 L585.95 320.52 L586.2 320.99 L586.45 321.03 L586.7 320.63 L586.95 319.82 L587.2 318.62 L587.45 317.07 L587.7 315.25 L587.95 313.22 L588.2 311.08 L588.45 308.91 L588.7 306.81 L588.95 304.88 L589.2 303.2 L589.45 301.84 L589.7 300.87 L589.95 300.33 L590.2 300.26 L590.45 300.66 L590.7 301.52 L590.95 302.81 L591.2 304.48 L591.45 306.45 L591.7 308.65 L591.95 310.98 L592.2 313.35 L592.45 315.64 L592.7 317.76 L592.95 319.62 L593.2 321.12 L593.45 322.2 L593.7 322.82 L593.95 322.92 L594.2 322.52 L594.45 321.61 L594.7 320.23 L594.95 318.44 L595.2 316.3 L595.45 313.92 L595.7 311.38 L595.95 308.81 L596.2 306.3 L596.45 303.98 L596.7 301.94 L596.95 300.28 L597.2 299.07 L597.45 298.37 L597.7 298.22 L597.95 298.63 L598.2 299.59 L598.45 301.06 L598.7 302.99 L598.95 305.29 L599.2 307.87 L599.45 310.62 L599.7 313.43 L599.95 316.16 L600.2 318.7 L600.45 320.94 L600.7 322.77 L600.95 324.12 L601.2 324.91 L601.45 325.11 L601.7 324.69 L601.95 323.69 L602.2 322.12 L602.45 320.05 L602.7 317.57 L602.95 314.78 L603.2 311.8 L603.45 308.76 L603.7 305.78 L603.95 303 L604.2 300.55 L604.45 298.53 L604.7 297.04 L604.95 296.14 L605.2 295.89 L605.45 296.3 L605.7 297.36 L605.95 299.03 L606.2 301.24 L606.45 303.91 L606.7 306.92 L606.95 310.14 L607.2 313.45 L607.45 316.68 L607.7 319.71 L607.95 322.39 L608.2 324.61 L608.45 326.27 L608.7 327.28 L608.95 327.59 L609.2 327.19 L609.45 326.08 L609.7 324.31 L609.95 321.94 L610.2 319.08 L610.45 315.83 L610.7 312.35 L610.95 308.77 L611.2 305.26 L611.45 301.96 L611.7 299.03 L611.95 296.6 L612.2 294.77 L612.45 293.63 L612.7 293.25 L612.95 293.64 L613.2 294.79 L613.45 296.67 L613.7 299.2 L613.95 302.27 L614.2 305.76 L614.45 309.52 L614.7 313.39 L614.95 317.19 L615.2 320.78 L615.45 323.97 L615.7 326.64 L615.95 328.66 L616.2 329.93 L616.45 330.4 L616.7 330.03 L616.95 328.82 L617.2 326.84 L617.45 324.15 L617.7 320.86 L617.95 317.11 L618.2 313.06 L618.45 308.88 L618.7 304.76 L618.95 300.87 L619.2 297.39 L619.45 294.47 L619.7 292.25 L619.95 290.83 L620.2 290.28 L620.45 290.62 L620.7 291.87 L620.95 293.97 L621.2 296.83 L621.45 300.35 L621.7 304.37 L621.95 308.72 L622.2 313.22 L622.45 317.68 L622.7 321.89 L622.95 325.67 L623.2 328.85 L623.45 331.3 L623.7 332.88 L623.95 333.54 L624.2 333.22 L624.45 331.93 L624.7 329.72 L624.95 326.68 L625.2 322.93 L625.45 318.62 L625.7 313.95 L625.95 309.11 L626.2 304.3 L626.45 299.75 L626.7 295.64 L626.95 292.17 L627.2 289.5 L627.45 287.73 L627.7 286.97 L627.95 287.26 L628.2 288.58 L628.45 290.9 L628.7 294.12 L628.95 298.12 L629.2 302.72 L629.45 307.73 L629.7 312.93 L629.95 318.1 L630.2 323.02 L630.45 327.46 L630.7 331.24 L630.95 334.17 L631.2 336.12 L631.45 337 L631.7 336.76 L631.95 335.4 L632.2 332.97 L632.45 329.56 L632.7 325.31 L632.95 320.41 L633.2 315.05 L633.45 309.47 L633.7 303.91 L633.95 298.61 L634.2 293.81 L634.45 289.71 L634.7 286.51 L634.95 284.36 L635.2 283.34 L635.45 283.53 L635.7 284.92 L635.95 287.47 L636.2 291.06 L636.45 295.57 L636.7 300.79 L636.95 306.51 L637.2 312.48 L637.45 318.45 L637.7 324.15 L637.95 329.33 L638.2 333.77 L638.45 337.25 L638.7 339.63 L638.95 340.79 L639.2 340.66 L639.45 339.25 L639.7 336.59 L639.95 332.8 L640.2 328.03 L640.45 322.48 L640.7 316.39 L640.95 310.01 L641.2 303.62 L641.45 297.5 L641.7 291.92 L641.95 287.13 L642.2 283.34 L642.45 280.72 L642.7 279.41 L642.95 279.47 L643.2 280.9 L643.45 283.66 L643.7 287.65 L643.95 292.69 L644.2 298.57 L644.45 305.05 L644.7 311.85 L644.95 318.68 L645.2 325.24 L645.45 331.23 L645.7 336.4 L645.95 340.51 L646.2 343.37 L646.45 344.86 L646.7 344.88 L646.95 343.43 L647.2 340.57 L647.45 336.39 L647.7 331.08 L647.95 324.85 L648.2 317.97 L648.45 310.73 L648.7 303.45 L648.95 296.45 L649.2 290.02 L649.45 284.46 L649.7 280.01 L649.95 276.88 L650.2 275.22 L650.45 275.1 L650.7 276.56 L650.95 279.52 L651.2 283.89 L651.45 289.48 L651.7 296.06 L651.95 303.34 L652.2 311.02 L652.45 318.77 L652.7 326.24 L652.95 333.12 L653.2 339.09 L653.45 343.89 L653.7 347.29 L653.95 349.15 L654.2 349.37 L654.45 347.92 L654.7 344.86 L654.95 340.3 L655.2 334.43 L655.45 327.51 L655.7 319.81 L655.95 311.68 L656.2 303.45 L656.45 295.5 L656.7 288.17 L656.95 281.77 L657.2 276.61 L657.45 272.91 L657.7 270.84 L657.95 270.51 L658.2 271.95 L658.45 275.1 L658.7 279.84 L658.95 285.98 L659.2 293.26 L659.45 301.37 L659.7 309.97 L659.95 318.67 L660.2 327.12 L660.45 334.92 L660.7 341.75 L660.95 347.3 L661.2 351.3 L661.45 353.59 L661.7 354.04 L661.95 352.63 L662.2 349.4 L662.45 344.47 L662.7 338.06 L662.95 330.43 L663.2 321.91 L663.45 312.85 L663.7 303.65 L663.95 294.71 L664.2 286.43 L664.45 279.15 L664.7 273.22 L664.95 268.9 L665.2 266.38 L665.45 265.79 L665.7 267.17 L665.95 270.48 L666.2 275.57 L666.45 282.24 L666.7 290.22 L666.95 299.16 L667.2 308.68 L667.45 318.37 L667.7 327.8 L667.95 336.57 L668.2 344.3 L668.45 350.62 L668.7 355.27 L668.95 358.03 L669.2 358.76 L669.45 357.43 L669.7 354.06 L669.95 348.81 L670.2 341.88 L670.45 333.57 L670.7 324.23 L670.95 314.25 L671.2 304.08 L671.45 294.15 L671.7 284.89 L671.95 276.72 L672.2 269.99 L672.45 265.01 L672.7 262.01 L672.95 261.12 L673.2 262.4 L673.45 265.81 L673.7 271.21 L673.95 278.38 L674.2 287.01 L674.45 296.75 L674.7 307.16 L674.95 317.81 L675.2 328.23 L675.45 337.96 L675.7 346.58 L675.95 353.71 L676.2 359.02 L676.45 362.28 L676.7 363.33 L676.95 362.11 L677.2 358.67 L677.45 353.14 L677.7 345.75 L677.95 336.81 L678.2 326.71 L678.45 315.87 L678.7 304.77 L678.95 293.88 L679.2 283.68 L679.45 274.63 L679.7 267.11 L679.95 261.47 L680.2 257.96 L680.45 256.74 L680.7 257.88 L680.95 261.34 L681.2 266.98 L681.45 274.57 L681.7 283.78 L681.95 294.23 L682.2 305.46 L682.45 316.99 L682.7 328.31 L682.95 338.94 L683.2 348.41 L683.45 356.3 L683.7 362.26 L683.95 366.03 L684.2 367.42 L684.45 366.36 L684.7 362.9 L684.95 357.18 L685.2 349.42 L685.45 339.97 L685.7 329.22 L685.95 317.64 L686.2 305.73 L686.45 294.01 L686.7 282.98 L686.95 273.14 L687.2 264.91 L687.45 258.65 L687.7 254.66 L687.95 253.1 L688.2 254.06 L688.45 257.5 L688.7 263.28 L688.95 271.16 L689.2 280.81 L689.45 291.79 L689.7 303.66 L689.95 315.87 L690.2 327.92 L690.45 339.27 L690.7 349.42 L690.95 357.93 L691.2 364.43 L691.45 368.62 L691.7 370.32 L691.95 369.45 L692.2 366.04 L692.45 360.23 L692.7 352.27 L692.95 342.5 L693.2 331.37 L693.45 319.36 L693.7 307.02 L693.95 294.88 L694.2 283.47 L694.45 273.28 L694.7 264.75 L694.95 258.26 L695.2 254.07 L695.45 252.37 L695.7 253.22 L695.95 256.57 L696.2 262.28 L696.45 270.08 L696.7 279.64 L696.95 290.53 L697.2 302.28 L697.45 314.37 L697.7 326.27 L697.95 337.48 L698.2 347.5 L698.45 355.91 L698.7 362.35 L698.95 366.54 L699.2 368.32 L699.45 367.61 L699.7 364.46 L699.95 359.01 L700.2 351.51 L700.45 342.28 L700.7 331.75 L700.95 320.37 L701.2 308.63 L701.45 297.05 L701.7 286.14 L701.95 276.35 L702.2 268.1 L702.45 261.76 L702.7 257.58 L702.95 255.74 L703.2 256.3 L703.45 259.24 L703.7 264.4 L703.95 271.56 L704.2 280.39 L704.45 290.51 L704.7 301.48 L704.95 312.8 L705.2 324 L705.45 334.58 L705.7 344.09 L705.95 352.12 L706.2 358.34 L706.45 362.48 L706.7 364.38 L706.95 363.96 L707.2 361.26 L707.45 356.4 L707.7 349.6 L707.95 341.18 L708.2 331.5 L708.45 321 L708.7 310.12 L708.95 299.34 L709.2 289.14 L709.45 279.94 L709.7 272.14 L709.95 266.07 L710.2 261.98 L710.45 260.05 L710.7 260.33 L710.95 262.8 L711.2 267.35 L711.45 273.77 L711.7 281.76 L711.95 290.98 L712.2 301.01 L712.45 311.41 L712.7 321.74 L712.95 331.55 L713.2 340.41 L713.45 347.95 L713.7 353.86 L713.95 357.87 L714.2 359.84 L714.45 359.69 L714.7 357.43 L714.95 353.19 L715.2 347.16 L715.45 339.6 L715.7 330.86 L715.95 321.32 L716.2 311.4 L716.45 301.53 L716.7 292.14 L716.95 283.63 L717.2 276.36 L717.45 270.64 L717.7 266.71 L717.95 264.73 L718.2 264.76 L718.45 266.8 L718.7 270.74 L718.95 276.39 L719.2 283.51 L719.45 291.78 L719.7 300.82 L719.95 310.25 L720.2 319.65 L720.45 328.61 L720.7 336.76 L720.95 343.74 L721.2 349.26 L721.45 353.09 L721.7 355.09 L721.95 355.16 L722.2 353.33 L722.45 349.69 L722.7 344.41 L722.95 337.72 L723.2 329.93 L723.45 321.38 L723.7 312.45 L723.95 303.52 L724.2 294.99 L724.45 287.21 L724.7 280.53 L724.95 275.21 L725.2 271.48 L725.45 269.5 L725.7 269.32 L725.95 270.95 L726.2 274.31 L726.45 279.23 L726.7 285.49 L726.95 292.82 L727.2 300.87 L727.45 309.31 L727.7 317.77 L727.95 325.87 L728.2 333.27 L728.45 339.66 L728.7 344.76 L728.95 348.38 L729.2 350.35 L729.45 350.61 L729.7 349.16 L729.95 346.08 L730.2 341.51 L730.45 335.66 L730.7 328.8 L730.95 321.22 L731.2 313.27 L731.45 305.28 L731.7 297.61 L731.95 290.58 L732.2 284.49 L732.45 279.6 L732.7 276.11 L732.95 274.16 L733.2 273.83 L733.45 275.1 L733.7 277.92 L733.95 282.15 L734.2 287.6 L734.45 294.02 L734.7 301.13 L734.95 308.61 L735.2 316.13 L735.45 323.38 L735.7 330.04 L735.95 335.83 L736.2 340.5 L736.45 343.86 L736.7 345.78 L736.95 346.18 L737.2 345.07 L737.45 342.5 L737.7 338.59 L737.95 333.53 L738.2 327.54 L738.45 320.89 L738.7 313.87 L738.95 306.79 L739.2 299.96 L739.45 293.67 L739.7 288.18 L739.95 283.73 L740.2 280.5 L740.45 278.62 L740.7 278.15 L740.95 279.12 L741.2 281.46 L741.45 285.06 L741.7 289.75 L741.95 295.33 L742.2 301.53 L742.45 308.1 L742.7 314.74 L742.95 321.17 L743.2 327.11 L743.45 332.3 L743.7 336.53 L743.95 339.63 L744.2 341.47 L744.45 341.98 L744.7 341.15 L744.95 339.03 L745.2 335.72 L745.45 331.38 L745.7 326.2 L745.95 320.41 L746.2 314.28 L746.45 308.06 L746.7 302.03 L746.95 296.44 L747.2 291.54 L747.45 287.52 L747.7 284.56 L747.95 282.77 L748.2 282.22 L748.45 282.93 L748.7 284.84 L748.95 287.87 L749.2 291.88 L749.45 296.68 L749.7 302.06 L749.95 307.78 L750.2 313.59 L750.45 319.25 L750.7 324.49 L750.95 329.12 L751.2 332.92 L751.45 335.74 L751.7 337.47 L751.95 338.05 L752.2 337.46 L752.45 335.74 L752.7 332.97 L752.95 329.28 L753.2 324.84 L753.45 319.84 L753.7 314.52 L753.95 309.1 L754.2 303.81 L754.45 298.89 L754.7 294.55 L754.95 290.95 L755.2 288.27 L755.45 286.59 L755.7 285.99 L755.95 286.48 L756.2 288.02 L756.45 290.55 L756.7 293.94 L756.95 298.04 L757.2 302.67 L757.45 307.61 L757.7 312.66 L757.95 317.6 L758.2 322.2 L758.45 326.28 L758.7 329.67 L758.95 332.22 L759.2 333.83 L759.45 334.45 L759.7 334.06 L759.95 332.67 L760.2 330.37 L760.45 327.26 L760.7 323.48 L760.95 319.21 L761.2 314.62 L761.45 309.93 L761.7 305.33 L761.95 301.03 L762.2 297.21 L762.45 294.02 L762.7 291.6 L762.95 290.05 L763.2 289.42 L763.45 289.73 L763.7 290.97 L763.95 293.06 L764.2 295.91 L764.45 299.38 L764.7 303.33 L764.95 307.57 L765.2 311.93 L765.45 316.2 L765.7 320.21 L765.95 323.79 L766.2 326.78 L766.45 329.07 L766.7 330.56 L766.95 331.19 L767.2 330.95 L767.45 329.86 L767.7 327.96 L767.95 325.36 L768.2 322.17 L768.45 318.53 L768.7 314.61 L768.95 310.58 L769.2 306.61 L769.45 302.87 L769.7 299.53 L769.95 296.72 L770.2 294.56 L770.45 293.14 L770.7 292.51 L770.95 292.69 L771.2 293.66 L771.45 295.37 L771.7 297.74 L771.95 300.67 L772.2 304.01 L772.45 307.63 L772.7 311.36 L772.95 315.04 L773.2 318.51 L773.45 321.63 L773.7 324.26 L773.95 326.29 L774.2 327.64 L774.45 328.27 L774.7 328.15 L774.95 327.3 L775.2 325.75 L775.45 323.59 L775.7 320.91 L775.95 317.84 L776.2 314.51 L776.45 311.07 L776.7 307.66 L776.95 304.44 L777.2 301.54 L777.45 299.08 L777.7 297.17 L777.95 295.88 L778.2 295.26 L778.45 295.33 L778.7 296.08 L778.95 297.47 L779.2 299.44 L779.45 301.88 L779.7 304.7 L779.95 307.77 L780.2 310.94 L780.45 314.09 L780.7 317.07 L780.95 319.77 L781.2 322.06 L781.45 323.85 L781.7 325.08 L781.95 325.69 L782.2 325.66 L782.45 325 L782.7 323.75 L782.95 321.97 L783.2 319.74 L783.45 317.16 L783.7 314.35 L783.95 311.42 L784.2 308.52 L784.45 305.76 L784.7 303.26 L784.95 301.12 L785.2 299.44 L785.45 298.28 L785.7 297.69 L785.95 297.68 L786.2 298.25 L786.45 299.37 L786.7 300.99 L786.95 303.02 L787.2 305.38 L787.45 307.95 L787.7 310.64 L787.95 313.32 L788.2 315.87 L788.45 318.19 L788.7 320.17 L788.95 321.74 L789.2 322.84 L789.45 323.41 L789.7 323.45 L789.95 322.96 L790.2 321.96 L790.45 320.5 L790.7 318.65 L790.95 316.5 L791.2 314.14 L791.45 311.67 L791.7 309.21 L791.95 306.85 L792.2 304.71 L792.45 302.87 L792.7 301.4 L792.95 300.37 L793.2 299.81 L793.45 299.75 L793.7 300.17 L793.95 301.07 L794.2 302.38 L794.45 304.06 L794.7 306.02 L794.95 308.18 L795.2 310.44 L795.45 312.7 L795.7 314.87 L795.95 316.85 L796.2 318.56 L796.45 319.93 L796.7 320.9 L796.95 321.44 L797.2 321.52 L797.45 321.16 L797.7 320.36 L797.95 319.18 L798.2 317.66 L798.45 315.87 L798.7 313.9 L798.95 311.83 L799.2 309.75 L799.45 307.76 L799.7 305.93 L799.95 304.35 L800.2 303.08 L800.45 302.17 L800.7 301.65 L800.95 301.55 L801.2 301.86 L801.45 302.56 L801.7 303.63 L801.95 305.01 L802.2 306.63 L802.45 308.43 L802.7 310.32 L802.95 312.22 L803.2 314.05 L803.45 315.73 L803.7 317.2 L803.95 318.38 L804.2 319.23 L804.45 319.73 L804.7 319.84 L804.95 319.58 L805.2 318.96 L805.45 318 L805.7 316.76 L805.95 315.28 L806.2 313.65 L806.45 311.92 L806.7 310.18 L806.95 308.5 L807.2 306.95 L807.45 305.6 L807.7 304.5 L807.95 303.7 L808.2 303.23 L808.45 303.11 L808.7 303.33 L808.95 303.88 L809.2 304.74 L809.45 305.86 L809.7 307.19 L809.95 308.68 L810.2 310.25 L810.45 311.85 L810.7 313.39 L810.95 314.81 L811.2 316.05 L811.45 317.07 L811.7 317.82 L811.95 318.27 L812.2 318.4 L812.45 318.22 L812.7 317.73 L812.95 316.96 L813.2 315.95 L813.45 314.74 L813.7 313.39 L813.95 311.96 L814.2 310.51 L814.45 309.1 L814.7 307.79 L814.95 306.65 L815.2 305.7 L815.45 305.01 L815.7 304.58 L815.95 304.44 L816.2 304.59 L816.45 305.02 L816.7 305.71 L816.95 306.62 L817.2 307.71 L817.45 308.94 L817.7 310.24 L817.95 311.56 L818.2 312.85 L818.45 314.05 L818.7 315.1 L818.95 315.97 L819.2 316.62 L819.45 317.02 L819.7 317.16 L819.95 317.04 L820.2 316.66 L820.45 316.05 L820.7 315.23 L820.95 314.25 L821.2 313.14 L821.45 311.96 L821.7 310.75 L821.95 309.58 L822.2 308.48 L822.45 307.51 L822.7 306.71 L822.95 306.11 L823.2 305.73 L823.45 305.59 L823.7 305.68 L823.95 306.01 L824.2 306.56 L824.45 307.29 L824.7 308.18 L824.95 309.18 L825.2 310.26 L825.45 311.35 L825.7 312.42 L825.95 313.42 L826.2 314.31 L826.45 315.05 L826.7 315.61 L826.95 315.97 L827.2 316.11 L827.45 316.03 L827.7 315.75 L827.95 315.26 L828.2 314.61 L828.45 313.81 L828.7 312.9 L828.95 311.93 L829.2 310.93 L829.45 309.96 L829.7 309.04 L829.95 308.23 L830.2 307.55 L830.45 307.03 L830.7 306.7 L830.95 306.56 L831.2 306.61 L831.45 306.86 L831.7 307.29 L831.95 307.88 L832.2 308.6 L832.45 309.42 L832.7 310.3 L832.95 311.2 L833.2 312.09 L833.45 312.92 L833.7 313.66 L833.95 314.29 L834.2 314.77 L834.45 315.08 L834.7 315.22 L834.95 315.18 L835.2 314.96 L835.45 314.58 L835.7 314.06 L835.95 313.41 L836.2 312.67 L836.45 311.88 L836.7 311.06 L836.95 310.25 L837.2 309.49 L837.45 308.81 L837.7 308.24 L837.95 307.8 L838.2 307.51 L838.45 307.37 L838.7 307.4 L838.95 307.59 L839.2 307.92 L839.45 308.39 L839.7 308.97 L839.95 309.63 L840.2 310.35 L840.45 311.09 L840.7 311.82 L840.95 312.51 L841.2 313.13 L841.45 313.66 L841.7 314.07 L841.95 314.34 L842.2 314.47 L842.45 314.45 L842.7 314.29 L842.95 314 L843.2 313.58 L843.45 313.06 L843.7 312.46 L843.95 311.82 L844.2 311.15 L844.45 310.48 L844.7 309.86 L844.95 309.29 L845.2 308.81 L845.45 308.44 L845.7 308.18 L845.95 308.06 L846.2 308.06 L846.45 308.2 L846.7 308.46 L846.95 308.83 L847.2 309.3 L847.45 309.83 L847.7 310.42 L847.95 311.02 L848.2 311.62 L848.45 312.19 L848.7 312.71 L848.95 313.14 L849.2 313.49 L849.45 313.73 L849.7 313.85 L849.95 313.85 L850.2 313.73 L850.45 313.5 L850.7 313.17 L850.95 312.75 L851.2 312.27 L851.45 311.75 L851.7 311.2 L851.95 310.66 L852.2 310.14 L852.45 309.68 L852.7 309.28 L852.95 308.96 L853.2 308.74 L853.45 308.62 L853.7 308.62 L853.95 308.72 L854.2 308.92 L854.45 309.21 L854.7 309.58 L854.95 310.01 L855.2 310.48 L855.45 310.98 L855.7 311.47 L855.95 311.93 L856.2 312.36 L856.45 312.72 L856.7 313.02 L856.95 313.22 L857.2 313.33 L857.45 313.34 L857.7 313.26 L857.95 313.08 L858.2 312.82 L858.45 312.49 L858.7 312.1 L858.95 311.68 L859.2 311.24 L859.45 310.8" fill="none" stroke="#0000ff" stroke-width="0.85" stroke-linejoin="round"/>
</g>
<rect x="525.7" y="73.45" width="333.75" height="315.8" fill="none" stroke="#000" stroke-width="1.3"/>
<line x1="525.7" y1="231.4" x2="859.45" y2="231.4" stroke="#000" stroke-width="1.3"/>
<path d="M553.62 389.25v-3.1M553.62 231.4v-3.1M581.45 389.25v-4M581.45 231.4v-4M609.27 389.25v-3.1M609.27 231.4v-3.1M637.1 389.25v-4M637.1 231.4v-4M664.92 389.25v-3.1M664.92 231.4v-3.1M692.75 389.25v-4M692.75 231.4v-4M720.58 389.25v-3.1M720.58 231.4v-3.1M748.4 389.25v-4M748.4 231.4v-4M776.23 389.25v-3.1M776.23 231.4v-3.1M804.05 389.25v-4M804.05 231.4v-4M831.88 389.25v-3.1M831.88 231.4v-3.1M525.7 227h2.7M525.7 202.3h4.6M525.7 177.6h2.7M525.7 152.9h4.6M525.7 128.2h2.7M525.7 103.5h4.6M525.7 78.8h2.7M525.7 389.7h2.7M525.7 363.5h4.6M525.7 337.3h2.7M525.7 311.1h4.6M525.7 284.9h2.7M525.7 258.7h4.6M525.7 232.5h2.7" stroke="#000" stroke-width="1.1" fill="none"/>
<text class="s" transform="translate(524 107.8) scale(0.935 1)" font-size="20" text-anchor="end">0.5</text>
<text class="s" transform="translate(524 157.2) scale(0.935 1)" font-size="20" text-anchor="end">0.0</text>
<text class="s" transform="translate(524 206.6) scale(0.935 1)" font-size="20" text-anchor="end">-0.5</text>
<text class="s" transform="translate(521 264) scale(0.935 1)" font-size="20" text-anchor="end">0.5</text>
<text class="s" transform="translate(521 316.4) scale(0.935 1)" font-size="20" text-anchor="end">0.0</text>
<text class="s" transform="translate(521 368.8) scale(0.935 1)" font-size="20" text-anchor="end">-0.5</text>
<text class="s" transform="translate(524.8 408.6) scale(0.930 1)" font-size="20" text-anchor="middle">-300</text>
<text class="s" transform="translate(580.45 408.6) scale(0.930 1)" font-size="20" text-anchor="middle">-200</text>
<text class="s" transform="translate(636.1 408.6) scale(0.930 1)" font-size="20" text-anchor="middle">-100</text>
<text class="s" transform="translate(692.75 408.6) scale(0.930 1)" font-size="20" text-anchor="middle">0</text>
<text class="s" transform="translate(748.4 408.6) scale(0.930 1)" font-size="20" text-anchor="middle">100</text>
<text class="s" transform="translate(804.05 408.6) scale(0.930 1)" font-size="20" text-anchor="middle">200</text>
<text class="s" transform="translate(859.7 408.6) scale(0.930 1)" font-size="20" text-anchor="middle">300</text>
<text class="s" x="693" y="435.8" font-size="20.8" text-anchor="middle">Detection-time difference <tspan class="r">τ</tspan> (<tspan class="r">μ</tspan>s)</text>
<text class="s" x="533.3" y="100.6" font-size="18" text-anchor="start">With driving laser</text>
<text class="s" x="852.8" y="100.6" font-size="18" text-anchor="end">Fibre delay 1 km</text>
<text class="s" x="534.2" y="259.1" font-size="18" text-anchor="start">With LCSPS</text>
<text class="s" x="852.8" y="259.1" font-size="18" text-anchor="end">Fibre delay 1 km</text>
<text class="r" x="855.2" y="220" font-size="18" text-anchor="end">τ<tspan font-size="12.6" dy="4.2" dx="0.3">c</tspan><tspan font-size="12.9" dy="-11.6">Laser</tspan><tspan dy="7.4"> = 256 ± 1 μs</tspan></text>
<text class="r" x="855.2" y="379.4" font-size="18" text-anchor="end">τ<tspan font-size="12.6" dy="4.2" dx="0.3">c</tspan><tspan font-size="12.9" dy="-11.6">LCSPS</tspan><tspan dy="7.4"> = 258 ± 2 μs</tspan></text>
<text class="r" transform="translate(535.8 376.9) scale(1.080 1)" font-size="16.8" text-anchor="start">Ω/Γ<tspan class="bar" font-size="12.6" dy="4.4" dx="2.5" letter-spacing="1.2">||</tspan><tspan dy="-4.4" dx="-2.0"> = 0.08</tspan></text>
<g transform="translate(471 330) rotate(-90)">
<text class="r" x="1" y="0" font-size="17.6">g</text>
<text class="s" x="11.2" y="6.7" font-size="13">MZI,</text>
<text class="bar2" x="41.6" y="7.4" font-size="14.5" letter-spacing="1.4">||</text>
<text class="r" x="111.9" y="0" font-size="17.6">g</text>
<text class="s" x="122.1" y="6.7" font-size="13">MZI,</text>
<text class="bar2" x="148.6" y="7.4" font-size="13">⊥</text>
<text class="s" x="49.6" y="-6.4" font-size="12">(2)</text>
<text class="s" x="160.5" y="-6.4" font-size="12">(2)</text>
<text class="s" x="64" y="0.6" font-size="19.3">(</text>
<text class="r" x="71.8" y="0.6" font-size="21.5">τ</text>
<text class="s" x="82.4" y="0.6" font-size="19.3">)</text>
<text class="s" x="173.8" y="0.6" font-size="19.3">(</text>
<text class="r" x="181.6" y="0.6" font-size="21.5">τ</text>
<text class="s" x="192.2" y="0.6" font-size="19.3">)</text>
<text class="s" x="93.6" y="0" font-size="20">−</text>
</g>
</g>
<g id="panel-c">
<text class="s" transform="translate(916.4 52.4) scale(1.040 1)" font-size="36.2" text-anchor="start">(c)</text>
<path d="M1027.5 205.3V211.5M1025.2 205.3h4.6M1025.2 211.5h4.6M1048.4 202.3V213.4M1046.1 202.3h4.6M1046.1 213.4h4.6M1073.3 209.4V223.4M1071 209.4h4.6M1071 223.4h4.6M1106.4 200.3V216.3M1104.1 200.3h4.6M1104.1 216.3h4.6M1128.3 209.4V218.4M1126 209.4h4.6M1126 218.4h4.6M1146.2 216.4V231.5M1143.9 216.4h4.6M1143.9 231.5h4.6M1167 212.2V227.6M1164.7 212.2h4.6M1164.7 227.6h4.6M1194.6 201.4V222.5M1192.3 201.4h4.6M1192.3 222.5h4.6M1215.5 214.5V226.4M1213.2 214.5h4.6M1213.2 226.4h4.6M1236.6 215.4V230.3M1234.3 215.4h4.6M1234.3 230.3h4.6M1264.5 209.4V228.5M1262.2 209.4h4.6M1262.2 228.5h4.6M1278.5 213.4V232.4M1276.2 213.4h4.6M1276.2 232.4h4.6" stroke="#000" stroke-width="1.05" fill="none"/>
<circle cx="1027.5" cy="208.4" r="3.3" fill="#ff0000"/>
<circle cx="1048.4" cy="208" r="3.3" fill="#ff0000"/>
<circle cx="1073.3" cy="216.1" r="3.3" fill="#ff0000"/>
<circle cx="1106.4" cy="208.6" r="3.3" fill="#ff0000"/>
<circle cx="1128.3" cy="213.7" r="3.3" fill="#ff0000"/>
<circle cx="1146.2" cy="224.1" r="3.3" fill="#ff0000"/>
<circle cx="1167" cy="219.9" r="3.3" fill="#ff0000"/>
<circle cx="1194.6" cy="211.9" r="3.3" fill="#ff0000"/>
<circle cx="1215.5" cy="220.7" r="3.3" fill="#ff0000"/>
<circle cx="1236.6" cy="222.9" r="3.3" fill="#ff0000"/>
<circle cx="1264.5" cy="219.2" r="3.3" fill="#ff0000"/>
<circle cx="1278.5" cy="222.9" r="3.3" fill="#ff0000"/>
<rect x="1020.6" y="139.4" width="285.85" height="204.8" fill="none" stroke="#000" stroke-width="1.05"/>
<path d="M1024.31 344.2v-2.4M1027.5 344.2v-4.3M1048.51 344.2v-2.4M1060.8 344.2v-2.4M1069.52 344.2v-2.4M1076.29 344.2v-2.4M1081.81 344.2v-2.4M1086.49 344.2v-2.4M1090.54 344.2v-2.4M1094.11 344.2v-2.4M1097.3 344.2v-4.3M1118.31 344.2v-2.4M1130.6 344.2v-2.4M1139.32 344.2v-2.4M1146.09 344.2v-2.4M1151.61 344.2v-2.4M1156.29 344.2v-2.4M1160.34 344.2v-2.4M1163.91 344.2v-2.4M1167.1 344.2v-4.3M1188.11 344.2v-2.4M1200.4 344.2v-2.4M1209.12 344.2v-2.4M1215.89 344.2v-2.4M1221.41 344.2v-2.4M1226.09 344.2v-2.4M1230.14 344.2v-2.4M1233.71 344.2v-2.4M1236.9 344.2v-4.3M1257.91 344.2v-2.4M1270.2 344.2v-2.4M1278.92 344.2v-2.4M1285.69 344.2v-2.4M1291.21 344.2v-2.4M1295.89 344.2v-2.4M1299.94 344.2v-2.4M1303.51 344.2v-2.4M1020.6 139.6h4.3M1020.6 168.05h2.4M1020.6 196.5h4.3M1020.6 224.95h2.4M1020.6 253.4h4.3M1020.6 281.85h2.4M1020.6 310.3h4.3M1020.6 338.75h2.4" stroke="#000" stroke-width="1.0" fill="none"/>
<text class="s" transform="translate(1016.5 145.2) scale(0.890 1)" font-size="20.2" text-anchor="end">1.00</text>
<text class="s" transform="translate(1016.5 202.1) scale(0.890 1)" font-size="20.2" text-anchor="end">0.95</text>
<text class="s" transform="translate(1016.5 259) scale(0.890 1)" font-size="20.2" text-anchor="end">0.90</text>
<text class="s" transform="translate(1016.5 315.9) scale(0.890 1)" font-size="20.2" text-anchor="end">0.85</text>
<text class="s" transform="translate(1027.5 362.9) scale(0.885 1)" font-size="20.2" text-anchor="middle">0.01</text>
<text class="s" transform="translate(1097.3 362.9) scale(0.885 1)" font-size="20.2" text-anchor="middle">0.1</text>
<text class="s" transform="translate(1167.1 362.9) scale(0.885 1)" font-size="20.2" text-anchor="middle">1</text>
<text class="s" transform="translate(1236.9 362.9) scale(0.885 1)" font-size="20.2" text-anchor="middle">10</text>
<text class="s" transform="translate(1306.7 362.9) scale(0.885 1)" font-size="20.2" text-anchor="middle">100</text>
<text class="s" x="1092" y="386.7" font-size="18.5" text-anchor="start" style="white-space:pre">AMZI delay <tspan class="r">Δ</tspan>t  (<tspan class="r">μ</tspan>s)</text>
<g transform="translate(970.7 296.3) rotate(-90)">
<text class="s" x="0" y="0" font-size="18.1" text-anchor="start">HOM visibility</text>
</g>
<text class="r" transform="translate(1202.4 167.8) scale(0.915 1)" font-size="18" text-anchor="start">Ω/Γ<tspan class="bar" font-size="12.8" dy="3.2" dx="3.2" letter-spacing="1.5">||</tspan><tspan dy="-3.2" dx="-2.0"> = 0.13</tspan></text>
</g>
</svg>
</body></html>
